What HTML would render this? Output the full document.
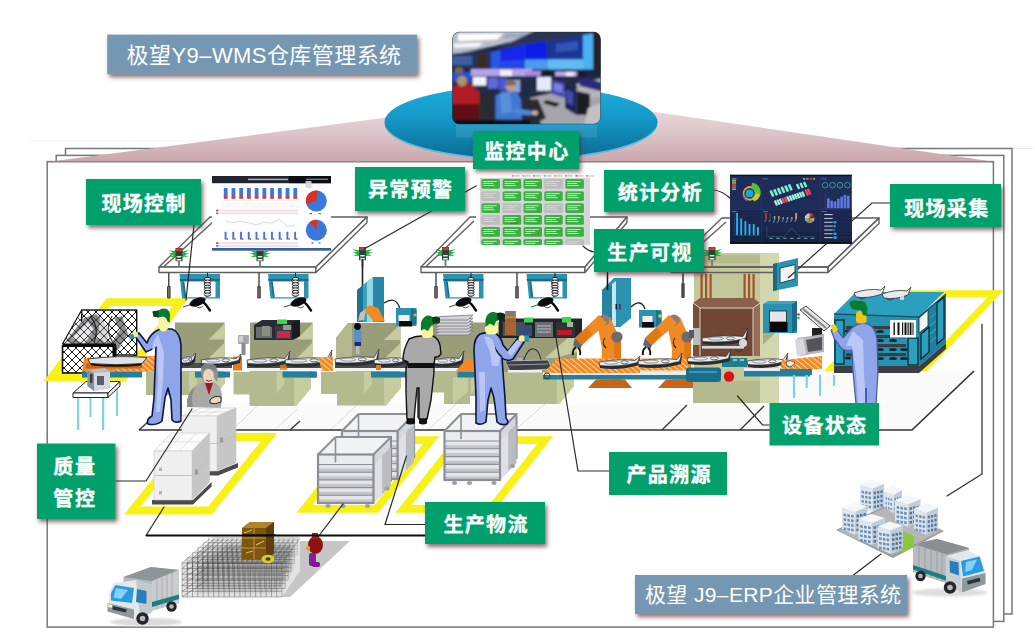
<!DOCTYPE html>
<html lang="zh-CN"><head><meta charset="utf-8"><title>极望 MES 生产管理</title>
<style>
html,body{margin:0;padding:0;background:#fff;}
body{width:1035px;height:632px;overflow:hidden;font-family:"Liberation Sans","Noto Sans CJK SC",sans-serif;}
svg{display:block;}
.lb{font-family:"Liberation Sans","Noto Sans CJK SC",sans-serif;font-weight:700;fill:#fff;font-size:20px;text-anchor:middle;stroke:#fff;stroke-width:0.35px;}
.sys{font-family:"Liberation Sans","Noto Sans CJK SC",sans-serif;font-weight:400;fill:#fff;}
</style></head><body>
<svg width="1035" height="632" viewBox="0 0 1035 632">
<defs>
  <linearGradient id="beamG" x1="0" y1="0" x2="0" y2="1">
    <stop offset="0" stop-color="#ead9dc"/>
    <stop offset="0.55" stop-color="#d9bfc4"/>
    <stop offset="1" stop-color="#c9a6ac"/>
  </linearGradient>
  <linearGradient id="discG" x1="0" y1="0" x2="0" y2="1">
    <stop offset="0" stop-color="#1aaee0"/>
    <stop offset="0.45" stop-color="#1499c6"/>
    <stop offset="1" stop-color="#0a6b93"/>
  </linearGradient>
  <filter id="sh" x="-10%" y="-20%" width="125%" height="150%">
    <feGaussianBlur in="SourceAlpha" stdDeviation="2"/>
    <feOffset dx="1.6" dy="2.6" result="o"/>
    <feFlood flood-color="#5a3038" flood-opacity="0.7"/>
    <feComposite in2="o" operator="in"/>
    <feMerge><feMergeNode/><feMergeNode in="SourceGraphic"/></feMerge>
  </filter>
  <filter id="b1"><feGaussianBlur stdDeviation="0.6"/></filter>
  <filter id="b2"><feGaussianBlur stdDeviation="1.0"/></filter>
  <filter id="b3"><feGaussianBlur stdDeviation="2.2"/></filter>
  <clipPath id="photoClip"><rect x="452.5" y="32" width="148" height="92" rx="7" ry="7"/></clipPath>
  <pattern id="hatch" width="8" height="8" patternUnits="userSpaceOnUse">
    <rect width="8" height="8" fill="#fff"/>
    <path d="M0 0L8 8M8 0L0 8" stroke="#111" stroke-width="0.95"/>
  </pattern>
  <pattern id="hatchT" width="8" height="8" patternUnits="userSpaceOnUse">
    <path d="M0 0L8 8M8 0L0 8" stroke="#111" stroke-width="0.9"/>
  </pattern>
  <pattern id="dots" width="4" height="4" patternUnits="userSpaceOnUse">
    <rect width="4" height="4" fill="#fcfcfc"/>
    <rect x="1" y="1" width="1" height="1" fill="#f1f1f1"/>
    <rect x="3" y="3" width="1" height="1" fill="#f1f1f1"/>
  </pattern>
  <pattern id="mesh" width="5" height="5" patternUnits="userSpaceOnUse">
    <path d="M0 0H5M0 0V5" stroke="#555" stroke-width="0.8" fill="none"/>
  </pattern>
  <pattern id="ostripe" width="4" height="4" patternUnits="userSpaceOnUse" patternTransform="rotate(-50)">
    <rect width="4" height="4" fill="#f08a24"/>
    <rect width="0.9" height="4" fill="#ffd9a8"/>
  </pattern>
</defs>
<!-- stacked page frames -->
<line x1="30" y1="141" x2="215" y2="141" stroke="#f3f3f3" stroke-width="1"/>
<line x1="1012" y1="148.3" x2="1033" y2="148.3" stroke="#e4e0e0" stroke-width="1"/>
<rect x="65.5" y="148.5" width="946.5" height="465.5" fill="#fff" stroke="#777" stroke-width="1.5"/>
<rect x="56.2" y="155.4" width="947.6" height="466" fill="#fff" stroke="#777" stroke-width="1.5"/>
<rect x="47.2" y="161.6" width="946.2" height="465.5" fill="#fff" stroke="#777" stroke-width="1.5"/>
<!-- beam -->
<polygon points="47,162 400,115.8 640,109.7 992,161.5" fill="url(#beamG)"/>
<line id="beam-edge" x1="47.2" y1="161.7" x2="993.4" y2="161.7" stroke="#8c7a80" stroke-width="1.2" opacity="0.75"/>
<!-- disc -->
<ellipse cx="521" cy="123.6" rx="136.5" ry="36.5" fill="#58bcd8"/>
<ellipse cx="521" cy="122" rx="136.5" ry="36.5" fill="url(#discG)"/>
<!-- control room photo -->
<g clip-path="url(#photoClip)">
<rect x="452" y="31" width="150" height="94" fill="#1a2240"/>
<g filter="url(#b2)">
<polygon points="448.0,28.0 545.0,28.0 530.0,37.0 495.0,46.0 448.0,56.0" fill="#b9bec8" />
<polygon points="540.0,28.0 604.0,28.0 604.0,36.0 583.0,37.0 525.0,45.0 495.0,50.0" fill="#2c3652" />
<polygon points="458.0,34.0 503.0,33.5 497.0,39.5 458.0,41.0" fill="#ffffff" />
<polygon points="454.0,43.5 484.0,42.5 478.0,47.0 454.0,48.0" fill="#f3f5f9" />
<polygon points="505.0,34.0 528.0,33.0 522.0,37.0 503.0,38.0" fill="#9aa4c0" />
<polygon points="448.0,54.0 492.0,50.0 492.0,70.0 448.0,72.0" fill="#21325c" />
<rect x="452.0" y="56.0" width="20.0" height="9.0" fill="#3f5f9e" />
<rect x="477.0" y="52.5" width="9.5" height="15.5" fill="#3a2a24" />
<polygon points="491.0,52.0 525.0,44.5 583.0,36.5 583.0,71.0 491.0,70.0" fill="#1a3ae6" />
<polygon points="491.0,52.0 500.0,50.0 500.0,69.5 491.0,69.5" fill="#2c56e2" />
<polygon points="501.0,49.5 524.0,44.6 524.0,60.0 501.0,61.0" fill="#1226ea" />
<polygon points="525.0,44.4 546.0,41.5 546.0,58.8 525.0,59.5" fill="#0f1fe8" />
<polygon points="546.0,41.5 583.0,36.5 583.0,59.6 546.0,58.8" fill="#1b3494" />
<polygon points="556.0,44.0 578.0,41.0 578.0,50.0 556.0,52.0" fill="#2d56b4" />
<polygon points="583.0,35.0 593.0,33.5 593.0,72.5 583.0,72.0" fill="#4ab2f2" />
<polygon points="525.0,59.5 583.0,59.6 583.0,71.5 525.0,70.5" fill="#4c9cee" />
<polygon points="548.0,59.5 583.0,59.6 583.0,71.5 548.0,71.0" fill="#62bbf3" />
<polygon points="501.0,61.0 524.0,60.0 525.0,70.5 501.0,69.8" fill="#2448e4" />
<polygon points="593.0,30.0 604.0,30.0 604.0,75.0 593.0,74.0" fill="#2b2228" />
<rect x="448.0" y="69.5" width="156.0" height="3.5" fill="#1b2140" />
<rect x="471.0" y="69.0" width="61.0" height="7.0" fill="#b3a4e2" />
<rect x="500.0" y="70.0" width="12.0" height="6.0" fill="#f2f0ff" />
<rect x="525.0" y="71.0" width="16.0" height="7.0" fill="#a78be0" />
<rect x="555.0" y="71.5" width="22.0" height="7.5" fill="#c0a8ea" />
<rect x="566.0" y="72.0" width="8.0" height="6.5" fill="#f0e8fb" />
<rect x="448.0" y="76.0" width="156.0" height="50.0" fill="#232a44" />
<rect x="452.0" y="72.0" width="19.0" height="10.0" fill="#2b50d4" />
<ellipse cx="459.0" cy="70.5" rx="4.0" ry="3.2" fill="#7a6a40" />
<rect x="472.8" y="77.0" width="13.6" height="8.6" fill="#f2f5ff" />
<rect x="488.0" y="77.5" width="10.0" height="11.0" fill="#5c6ae2" />
<rect x="499.0" y="78.0" width="8.5" height="12.0" fill="#4a5ad6" />
<rect x="508.0" y="80.0" width="12.0" height="12.0" fill="#8ea4dc" />
<polygon points="530.0,98.0 552.0,93.0 604.0,84.0 604.0,126.0 542.0,126.0" fill="#a4a5aa" />
<polygon points="576.0,84.0 604.0,78.0 604.0,96.0 582.0,100.0" fill="#b4b4ba" />
<polygon points="578.0,76.0 604.0,83.0 604.0,92.0 580.0,86.0" fill="#2c2c7c" />
<ellipse cx="582.0" cy="74.8" rx="4.2" ry="3.6" fill="#1c1c2a" />
<ellipse cx="547.8" cy="73.0" rx="4.0" ry="3.4" fill="#1c1a28" />
<polygon points="546.0,100.0 560.0,103.5 556.0,107.0 543.0,103.0" fill="#1e1e24" />
<polygon points="576.6,91.0 590.0,94.0 590.0,115.0 576.6,115.0" fill="#1b1b21" />
<polygon points="525.0,100.0 538.0,99.0 546.0,118.0 534.0,124.0 525.0,122.0" fill="#2b2b32" />
<polygon points="588.0,108.0 604.0,102.0 604.0,126.0 584.0,126.0" fill="#c2c2c6" />
<rect x="537.0" y="77.0" width="14.0" height="13.7" fill="#e3eafa" />
<polygon points="552.0,80.0 564.5,83.0 564.5,98.0 552.0,94.0" fill="#4a48b4" />
<polygon points="554.0,83.0 562.5,85.0 562.5,93.0 554.0,90.5" fill="#7a80e0" />
<polygon points="565.0,84.6 576.6,90.0 576.6,115.0 565.0,108.0" fill="#1a2152" />
<polygon points="566.5,89.0 573.0,92.0 573.0,106.0 566.5,102.5" fill="#3c4cb2" />
<polygon points="452.0,86.0 470.0,83.0 479.0,92.0 481.0,116.0 452.0,118.0" fill="#b01a26" />
<polygon points="452.0,104.0 481.0,104.0 481.0,122.0 452.0,122.0" fill="#5e0f18" />
<ellipse cx="462.0" cy="81.0" rx="5.0" ry="5.2" fill="#a8966c" />
<polygon points="479.0,96.0 490.0,93.5 494.0,100.0 494.0,121.0 479.0,121.0" fill="#2a2a31" />
<polygon points="495.5,96.0 503.0,91.0 517.0,91.5 521.0,100.0 522.0,119.6 495.5,119.6" fill="#3f78d0" />
<polygon points="500.0,94.0 510.0,92.0 512.0,112.0 501.0,114.0" fill="#5a8fdc" />
<ellipse cx="510.7" cy="85.5" rx="5.4" ry="6.0" fill="#c29c8a" />
<polygon points="505.5,83.0 510.0,79.5 516.0,81.5 516.0,85.0 506.0,86.0" fill="#7c6a5c" />
<polygon points="514.0,108.0 533.0,111.0 532.0,115.5 513.0,114.0" fill="#4f86d8" />
<ellipse cx="535.0" cy="113.0" rx="3.0" ry="2.4" fill="#d0a894" />
<rect x="448.0" y="120.0" width="82.0" height="6.0" fill="#0e0e1a" />
</g>
</g>
<rect x="452.5" y="32" width="148" height="92" rx="7" ry="7" fill="none" stroke="#12304c" stroke-opacity="0.45" stroke-width="0.8"/>
<rect x="456" y="124.5" width="141" height="13" fill="#ffffff" opacity="0.10"/>
<!-- floor band + yellow zones -->
<g>
  <polygon points="139,430 166,404 780,404 780,371 974,371 912,430" fill="url(#dots)"/>
  <!-- floor seams -->
  <g stroke="#dcdcdc" stroke-width="1" fill="none">
    <path d="M232,430 L258,405 M330,430 L358,404 M428,430 L456,404 M515,430 L545,404 M276,428 L297,410"/>
  </g>
  <g stroke="#333" stroke-width="1.3" fill="none">
    <path d="M139,430 H912 L974,371" stroke-width="1.7"/>
    <path d="M139,430 L150,420"/>
    <path d="M290,430 L300,421 M376,430 L392,416"/>
    <path d="M662,430 L687,405 M740,430 L764,406"/>
  </g>
</g>
<g fill="none" stroke="#f8f117" stroke-width="7.8" stroke-linejoin="miter">
  <polygon points="108.5,302.2 180.5,302.2 123.5,377.3 51.5,377.3"/>
  <polygon points="191.5,437 269.3,437 210,510.5 132.2,510.5"/>
  <polygon points="359,440.2 431,440.2 376.5,508.8 304.6,508.8"/>
  <polygon points="458,440.2 545,440.2 491,508.8 403.6,508.8"/>
  <polygon points="902,293.8 995.5,293.8 925.5,367.4 832,367.4" stroke-width="7"/>
</g>
<!-- canopies, beacons, monitors -->
<g stroke="#5e5e5e" stroke-width="1.35" stroke-linejoin="round" fill="#fff" fill-opacity="1">
<polygon points="159.0,267.0 316.0,267.0 367.0,217.0 210.0,217.0"/>
<polygon points="159.0,267.0 316.0,267.0 316.0,272.5 159.0,272.5"/>
<polygon points="316.0,267.0 367.0,217.0 367.0,222.5 316.0,272.5"/>
<path d="M164.0 266.5 L214.0 221.0" fill="none"/>
</g>
<g stroke="#5e5e5e" stroke-width="1.35" stroke-linejoin="round" fill="#fff" fill-opacity="1">
<polygon points="421.0,267.0 585.0,267.0 627.0,217.0 470.0,217.0"/>
<polygon points="421.0,267.0 585.0,267.0 585.0,272.5 421.0,272.5"/>
<polygon points="585.0,267.0 627.0,217.0 627.0,222.5 585.0,272.5"/>
<path d="M426.0 266.5 L474.0 221.0" fill="none"/>
</g>
<g>
<line x1="179.0" y1="260.0" x2="179.0" y2="267.0" stroke="#777" stroke-width="1.8"/>
<polygon points="177.0,252.1 177.0,254.8 168.5,250.0" fill="#12a535"/>
<polygon points="177.0,252.9 177.0,255.7 168.5,253.5" fill="#12a535"/>
<polygon points="177.0,253.8 177.0,256.5 169.5,257.0" fill="#12a535"/>
<polygon points="176.0,250.5 176.0,257.5 171.5,254.0" fill="#1fb843"/>
<polygon points="181.0,252.1 181.0,254.8 189.5,250.0" fill="#12a535"/>
<polygon points="181.0,252.9 181.0,255.7 189.5,253.5" fill="#12a535"/>
<polygon points="181.0,253.8 181.0,256.5 188.5,257.0" fill="#12a535"/>
<polygon points="182.0,250.5 182.0,257.5 186.5,254.0" fill="#1fb843"/>
<rect x="175.5" y="248.0" width="7" height="13.2" fill="#2c4a34"/>
<rect x="176.0" y="248.3" width="6" height="3" rx="0.8" fill="#d8322c"/>
<rect x="176.5" y="251.8" width="5" height="2.6" fill="#34384a"/>
<rect x="176.7" y="256.0" width="4.6" height="1.5" fill="#dfe8df"/><rect x="176.7" y="259.0" width="4.6" height="1.6" fill="#e8eee8"/>
</g>
<g>
<line x1="260.0" y1="260.0" x2="260.0" y2="267.0" stroke="#777" stroke-width="1.8"/>
<polygon points="258.0,252.1 258.0,254.8 249.5,250.0" fill="#12a535"/>
<polygon points="258.0,252.9 258.0,255.7 249.5,253.5" fill="#12a535"/>
<polygon points="258.0,253.8 258.0,256.5 250.5,257.0" fill="#12a535"/>
<polygon points="257.0,250.5 257.0,257.5 252.5,254.0" fill="#1fb843"/>
<polygon points="262.0,252.1 262.0,254.8 270.5,250.0" fill="#12a535"/>
<polygon points="262.0,252.9 262.0,255.7 270.5,253.5" fill="#12a535"/>
<polygon points="262.0,253.8 262.0,256.5 269.5,257.0" fill="#12a535"/>
<polygon points="263.0,250.5 263.0,257.5 267.5,254.0" fill="#1fb843"/>
<rect x="256.5" y="248.0" width="7" height="13.2" fill="#2c4a34"/>
<rect x="257.0" y="248.3" width="6" height="3" rx="0.8" fill="#d8322c"/>
<rect x="257.5" y="251.8" width="5" height="2.6" fill="#34384a"/>
<rect x="257.7" y="256.0" width="4.6" height="1.5" fill="#dfe8df"/><rect x="257.7" y="259.0" width="4.6" height="1.6" fill="#e8eee8"/>
</g>
<g>
<line x1="362.5" y1="259.0" x2="362.5" y2="267.0" stroke="#777" stroke-width="1.8"/>
<polygon points="360.5,251.1 360.5,253.8 352.0,249.0" fill="#12a535"/>
<polygon points="360.5,251.9 360.5,254.7 352.0,252.5" fill="#12a535"/>
<polygon points="360.5,252.8 360.5,255.5 353.0,256.0" fill="#12a535"/>
<polygon points="359.5,249.5 359.5,256.5 355.0,253.0" fill="#1fb843"/>
<polygon points="364.5,251.1 364.5,253.8 373.0,249.0" fill="#12a535"/>
<polygon points="364.5,251.9 364.5,254.7 373.0,252.5" fill="#12a535"/>
<polygon points="364.5,252.8 364.5,255.5 372.0,256.0" fill="#12a535"/>
<polygon points="365.5,249.5 365.5,256.5 370.0,253.0" fill="#1fb843"/>
<rect x="359.0" y="247.0" width="7" height="13.2" fill="#2c4a34"/>
<rect x="359.5" y="247.3" width="6" height="3" rx="0.8" fill="#d8322c"/>
<rect x="360.0" y="250.8" width="5" height="2.6" fill="#34384a"/>
<rect x="360.2" y="255.0" width="4.6" height="1.5" fill="#dfe8df"/><rect x="360.2" y="258.0" width="4.6" height="1.6" fill="#e8eee8"/>
</g>
<g>
<line x1="445.5" y1="259.0" x2="445.5" y2="267.0" stroke="#777" stroke-width="1.8"/>
<polygon points="443.5,251.1 443.5,253.8 435.0,249.0" fill="#12a535"/>
<polygon points="443.5,251.9 443.5,254.7 435.0,252.5" fill="#12a535"/>
<polygon points="443.5,252.8 443.5,255.5 436.0,256.0" fill="#12a535"/>
<polygon points="442.5,249.5 442.5,256.5 438.0,253.0" fill="#1fb843"/>
<polygon points="447.5,251.1 447.5,253.8 456.0,249.0" fill="#12a535"/>
<polygon points="447.5,251.9 447.5,254.7 456.0,252.5" fill="#12a535"/>
<polygon points="447.5,252.8 447.5,255.5 455.0,256.0" fill="#12a535"/>
<polygon points="448.5,249.5 448.5,256.5 453.0,253.0" fill="#1fb843"/>
<rect x="442.0" y="247.0" width="7" height="13.2" fill="#2c4a34"/>
<rect x="442.5" y="247.3" width="6" height="3" rx="0.8" fill="#d8322c"/>
<rect x="443.0" y="250.8" width="5" height="2.6" fill="#34384a"/>
<rect x="443.2" y="255.0" width="4.6" height="1.5" fill="#dfe8df"/><rect x="443.2" y="258.0" width="4.6" height="1.6" fill="#e8eee8"/>
</g>
<line x1="362.5" y1="259" x2="362.5" y2="292" stroke="#222" stroke-width="1.6"/>
<line x1="168.8" y1="273.0" x2="168.8" y2="286.0" stroke="#222" stroke-width="1.2"/><rect x="167.0" y="286.0" width="3.6" height="12.5" rx="1" fill="#4a3c36"/><rect x="168.2" y="287.0" width="1.2" height="10.5" fill="#8a7a72"/>
<line x1="259.0" y1="273.0" x2="259.0" y2="286.0" stroke="#222" stroke-width="1.2"/><rect x="257.2" y="286.0" width="3.6" height="12.5" rx="1" fill="#4a3c36"/><rect x="258.4" y="287.0" width="1.2" height="10.5" fill="#8a7a72"/>
<line x1="436.0" y1="273.0" x2="436.0" y2="286.0" stroke="#222" stroke-width="1.2"/><rect x="434.2" y="286.0" width="3.6" height="12.5" rx="1" fill="#4a3c36"/><rect x="435.4" y="287.0" width="1.2" height="10.5" fill="#8a7a72"/>
<line x1="517.0" y1="273.0" x2="517.0" y2="286.0" stroke="#222" stroke-width="1.2"/><rect x="515.2" y="286.0" width="3.6" height="12.5" rx="1" fill="#4a3c36"/><rect x="516.4" y="287.0" width="1.2" height="10.5" fill="#8a7a72"/>
<g>
<polygon points="179.5,274.0 220.0,274.0 220.0,298.5 182.0,298.5" fill="#2b93b0"/>
<polygon points="179.5,279.0 220.0,279.0 220.0,281.0 180.0,281.0" fill="#1c6a85"/>
<polygon points="183.5,281.5 215.5,281.5 215.5,297.3 185.5,297.3" fill="#fff"/>
<path d="M183.5 281.5 L185.5 297.3" stroke="#1c6a85" stroke-width="1.6" fill="none"/>
<path d="M204.5 279.0 L207.0 297.5" stroke="#2b93b0" stroke-width="2" fill="none"/>
</g>
<g>
<polygon points="268.0,274.0 308.5,274.0 308.5,298.5 270.5,298.5" fill="#2b93b0"/>
<polygon points="268.0,279.0 308.5,279.0 308.5,281.0 268.5,281.0" fill="#1c6a85"/>
<polygon points="272.0,281.5 304.0,281.5 304.0,297.3 274.0,297.3" fill="#fff"/>
<path d="M272.0 281.5 L274.0 297.3" stroke="#1c6a85" stroke-width="1.6" fill="none"/>
<path d="M293.0 279.0 L295.5 297.5" stroke="#2b93b0" stroke-width="2" fill="none"/>
</g>
<g>
<polygon points="443.0,274.0 483.5,274.0 483.5,298.5 445.5,298.5" fill="#2b93b0"/>
<polygon points="443.0,279.0 483.5,279.0 483.5,281.0 443.5,281.0" fill="#1c6a85"/>
<polygon points="447.0,281.5 479.0,281.5 479.0,297.3 449.0,297.3" fill="#fff"/>
<path d="M447.0 281.5 L449.0 297.3" stroke="#1c6a85" stroke-width="1.6" fill="none"/>
<path d="M468.0 279.0 L470.5 297.5" stroke="#2b93b0" stroke-width="2" fill="none"/>
</g>
<g>
<polygon points="526.5,274.0 567.0,274.0 567.0,298.5 529.0,298.5" fill="#2b93b0"/>
<polygon points="526.5,279.0 567.0,279.0 567.0,281.0 527.0,281.0" fill="#1c6a85"/>
<polygon points="530.5,281.5 562.5,281.5 562.5,297.3 532.5,297.3" fill="#fff"/>
<path d="M530.5 281.5 L532.5 297.3" stroke="#1c6a85" stroke-width="1.6" fill="none"/>
<path d="M551.5 279.0 L554.0 297.5" stroke="#2b93b0" stroke-width="2" fill="none"/>
</g>
<g fill="none" stroke="#222" stroke-width="1">
<line x1="207.5" y1="273" x2="207.5" y2="279.0"/>
<ellipse cx="207.5" cy="279.0" rx="3.2" ry="1.6" fill="#eee"/>
<ellipse cx="207.5" cy="281.6" rx="3.2" ry="1.6" fill="#eee"/>
<ellipse cx="207.5" cy="284.2" rx="3.2" ry="1.6" fill="#eee"/>
<ellipse cx="207.5" cy="286.8" rx="3.2" ry="1.6" fill="#eee"/>
<ellipse cx="207.5" cy="289.4" rx="3.2" ry="1.6" fill="#eee"/>
<ellipse cx="207.5" cy="292.0" rx="3.2" ry="1.6" fill="#eee"/>
<ellipse cx="207.5" cy="294.6" rx="3.2" ry="1.6" fill="#eee"/>
</g>
<g fill="none" stroke="#222" stroke-width="1">
<line x1="295.5" y1="273" x2="295.5" y2="279.0"/>
<ellipse cx="295.5" cy="279.0" rx="3.2" ry="1.6" fill="#eee"/>
<ellipse cx="295.5" cy="281.6" rx="3.2" ry="1.6" fill="#eee"/>
<ellipse cx="295.5" cy="284.2" rx="3.2" ry="1.6" fill="#eee"/>
<ellipse cx="295.5" cy="286.8" rx="3.2" ry="1.6" fill="#eee"/>
<ellipse cx="295.5" cy="289.4" rx="3.2" ry="1.6" fill="#eee"/>
<ellipse cx="295.5" cy="292.0" rx="3.2" ry="1.6" fill="#eee"/>
<ellipse cx="295.5" cy="294.6" rx="3.2" ry="1.6" fill="#eee"/>
</g>
<g fill="none" stroke="#222" stroke-width="1">
<line x1="471.0" y1="273" x2="471.0" y2="279.0"/>
<ellipse cx="471.0" cy="279.0" rx="3.2" ry="1.6" fill="#eee"/>
<ellipse cx="471.0" cy="281.6" rx="3.2" ry="1.6" fill="#eee"/>
<ellipse cx="471.0" cy="284.2" rx="3.2" ry="1.6" fill="#eee"/>
<ellipse cx="471.0" cy="286.8" rx="3.2" ry="1.6" fill="#eee"/>
<ellipse cx="471.0" cy="289.4" rx="3.2" ry="1.6" fill="#eee"/>
<ellipse cx="471.0" cy="292.0" rx="3.2" ry="1.6" fill="#eee"/>
<ellipse cx="471.0" cy="294.6" rx="3.2" ry="1.6" fill="#eee"/>
</g>
<g fill="none" stroke="#222" stroke-width="1">
<line x1="555.0" y1="273" x2="555.0" y2="279.0"/>
<ellipse cx="555.0" cy="279.0" rx="3.2" ry="1.6" fill="#eee"/>
<ellipse cx="555.0" cy="281.6" rx="3.2" ry="1.6" fill="#eee"/>
<ellipse cx="555.0" cy="284.2" rx="3.2" ry="1.6" fill="#eee"/>
<ellipse cx="555.0" cy="286.8" rx="3.2" ry="1.6" fill="#eee"/>
<ellipse cx="555.0" cy="289.4" rx="3.2" ry="1.6" fill="#eee"/>
<ellipse cx="555.0" cy="292.0" rx="3.2" ry="1.6" fill="#eee"/>
<ellipse cx="555.0" cy="294.6" rx="3.2" ry="1.6" fill="#eee"/>
</g>
<g>
<path d="M191.0 304.5 L183.0 307.0" stroke="#555" stroke-width="1.1" fill="none"/>
<ellipse cx="197.5" cy="302.0" rx="8.4" ry="3.9" fill="#0c0c0c" transform="rotate(-20 197.5 302.0)"/>
<path d="M202.0 301.0 Q206.0 304.0 210.0 310.5" stroke="#0c0c0c" stroke-width="2.4" fill="none" stroke-linecap="round"/>
<path d="M195.5 305.5 q3.5 4.5 7.5 0.5" stroke="#444" stroke-width="0.9" fill="none"/>
</g>
<g>
<path d="M292.0 304.5 L284.0 307.0" stroke="#555" stroke-width="1.1" fill="none"/>
<ellipse cx="298.5" cy="302.0" rx="8.4" ry="3.9" fill="#0c0c0c" transform="rotate(-20 298.5 302.0)"/>
<path d="M303.0 301.0 Q307.0 304.0 311.0 310.5" stroke="#0c0c0c" stroke-width="2.4" fill="none" stroke-linecap="round"/>
<path d="M296.5 305.5 q3.5 4.5 7.5 0.5" stroke="#444" stroke-width="0.9" fill="none"/>
</g>
<g>
<path d="M457.0 304.5 L449.0 307.0" stroke="#555" stroke-width="1.1" fill="none"/>
<ellipse cx="463.5" cy="302.0" rx="8.4" ry="3.9" fill="#0c0c0c" transform="rotate(-20 463.5 302.0)"/>
<path d="M468.0 301.0 Q472.0 304.0 476.0 310.5" stroke="#0c0c0c" stroke-width="2.4" fill="none" stroke-linecap="round"/>
<path d="M461.5 305.5 q3.5 4.5 7.5 0.5" stroke="#444" stroke-width="0.9" fill="none"/>
</g>
<g>
<path d="M539.0 304.5 L531.0 307.0" stroke="#555" stroke-width="1.1" fill="none"/>
<ellipse cx="545.5" cy="302.0" rx="8.4" ry="3.9" fill="#0c0c0c" transform="rotate(-20 545.5 302.0)"/>
<path d="M550.0 301.0 Q554.0 304.0 558.0 310.5" stroke="#0c0c0c" stroke-width="2.4" fill="none" stroke-linecap="round"/>
<path d="M543.5 305.5 q3.5 4.5 7.5 0.5" stroke="#444" stroke-width="0.9" fill="none"/>
</g>
<!-- machine row -->
<rect x="175.0" y="322.5" width="49.6" height="49.5" fill="#999e79"/>
<polygon points="224.6,323.5 224.6,339.5 208.6,339.5" fill="#c7cc9f"/>
<polygon points="224.6,342.5 224.6,358.5 208.6,358.5" fill="#c7cc9f"/>
<rect x="250.0" y="322.5" width="62.5" height="49.5" fill="#999e79"/>
<polygon points="312.5,323.5 312.5,339.5 296.5,339.5" fill="#c7cc9f"/>
<polygon points="312.5,342.5 312.5,358.5 296.5,358.5" fill="#c7cc9f"/>
<polygon points="336,338 348,323 400.5,323 400.5,372 336,372" fill="#999e79"/>
<polygon points="400.5,324 400.5,340 384,340" fill="#c7cc9f"/><polygon points="400.5,343 400.5,358 385,358" fill="#c7cc9f"/>
<polygon points="336,338 348,323 352,323 352,372 336,372" fill="#b3b88d"/>
<rect x="428.0" y="322.5" width="149.0" height="49.5" fill="#999e79"/>
<polygon points="577,330 577,352 556,358 545,358" fill="#c7cc9f"/>
<polygon points="146.0,372.0 225.0,372.0 225.0,383.0 215.0,395.0 146.0,395.0" fill="#b3ba8e"/>
<polygon points="189.0,372.0 197.0,372.0 197.0,384.0 189.0,394.0" fill="#c7cc9f"/>
<polygon points="208.0,378.0 225.0,378.0 225.0,383.0 215.0,395.0 208.0,395.0" fill="#c7cc9f"/>
<polygon points="233.5,372.0 311.0,372.0 311.0,388.0 296.0,406.0 249.5,406.0 249.5,394.5 233.5,394.5" fill="#b3ba8e"/>
<polygon points="276.5,372.0 284.5,372.0 284.5,384.0 276.5,394.0" fill="#c7cc9f"/>
<polygon points="294.0,378.0 311.0,378.0 311.0,388.0 296.0,406.0 294.0,406.0" fill="#c7cc9f"/>
<polygon points="321.0,372.0 401.0,372.0 401.0,387.5 386.0,405.5 337.0,405.5 337.0,394.0 321.0,394.0" fill="#b3ba8e"/>
<polygon points="364.0,372.0 372.0,372.0 372.0,384.0 364.0,394.0" fill="#c7cc9f"/>
<polygon points="384.0,378.0 401.0,378.0 401.0,387.5 386.0,405.5 384.0,405.5" fill="#c7cc9f"/>
<polygon points="428.0,372.0 574.0,372.0 574.0,386.0 559.0,404.0 444.0,404.0 444.0,392.5 428.0,392.5" fill="#b3ba8e"/>
<polygon points="471.0,372.0 479.0,372.0 479.0,384.0 471.0,394.0" fill="#c7cc9f"/>
<polygon points="557.0,378.0 574.0,378.0 574.0,386.0 559.0,404.0 557.0,404.0" fill="#c7cc9f"/>
<polygon points="453,377 468,377 468,392 453,404" fill="#c7cc9f"/>
<rect x="470" y="396" width="6" height="8.5" fill="#fff"/>
<g>
<polygon points="357,290 373,277 384,277 384,322 357,322" fill="#2b93b0"/>
<polygon points="357,290 363,285.5 363,322 357,322" fill="#1f7391"/>
<polygon points="367,282 373,277 373,322 367,322" fill="#8fd8e8"/>
<polygon points="363,285.5 367,282 367,322 363,322" fill="#39a4c0"/>
<polygon points="373,277 384,277 384,322 373,322" fill="#2787a4"/>
<path d="M360 313 L370 305 L378 308 L385 321 L374 322 L368 314 Z" fill="#f08a24"/>
<path d="M360 313 L366 309 L364 320 L358 321Z" fill="#c8c0b8"/>
<path d="M384 303 q12 -8 16 6" fill="none" stroke="#222" stroke-width="1.3"/>
<rect x="396" y="308" width="20.5" height="18" fill="#2b93b0"/><polygon points="411,308 416.5,310 416.5,324 411,326" fill="#1f7391"/>
<rect x="398.5" y="315" width="11" height="6" fill="#f4f0f4"/><rect x="399" y="321" width="13" height="5.5" fill="#0a0a0a"/>
<circle cx="415" cy="315" r="1.6" fill="#e8b020"/>
</g>
<g><circle cx="357.5" cy="326.5" r="3.4" fill="#0a0a0a"/><rect x="354" y="330" width="7.5" height="13" fill="#5a90c8"/><rect x="354.5" y="342" width="6.5" height="4" fill="#1a2a70"/><rect x="356" y="346" width="3.5" height="8" fill="#b8b8c0"/></g>
<polygon points="434.0,335.0 468.0,335.0 473.0,331.0 440.0,331.5" fill="#d2d2d8" stroke="#77777f" stroke-width="0.8"/>
<polygon points="434.0,332.0 468.0,332.0 473.0,327.8 440.0,328.5" fill="#d2d2d8" stroke="#77777f" stroke-width="0.8"/>
<polygon points="434.0,329.0 468.0,329.0 473.0,324.6 440.0,325.5" fill="#d2d2d8" stroke="#77777f" stroke-width="0.8"/>
<polygon points="434.0,326.0 468.0,326.0 473.0,321.4 440.0,322.5" fill="#d2d2d8" stroke="#77777f" stroke-width="0.8"/>
<polygon points="434.0,323.0 468.0,323.0 473.0,318.2 440.0,319.5" fill="#d2d2d8" stroke="#77777f" stroke-width="0.8"/>
<polygon points="434.0,320.0 468.0,320.0 473.0,315.0 440.0,316.5" fill="#d2d2d8" stroke="#77777f" stroke-width="0.8"/>
<g><polygon points="254,325 262,320 300,320 300,336 292,340 254,340" fill="#2a2c34"/>
<rect x="256" y="327" width="16" height="11" fill="#6a6e70"/><rect x="262" y="326" width="8" height="10" fill="#8a8f80"/>
<rect x="275" y="326" width="17" height="13" fill="#3a3a44"/><rect x="277" y="331" width="13" height="7" fill="#c82848"/>
<rect x="277" y="319.5" width="10" height="4.5" fill="#38d848"/><rect x="283" y="325" width="8" height="5" fill="#8aa08a"/>
<polygon points="292,322 300,320 300,336 292,340" fill="#1a1a22"/></g>
<g><rect x="238" y="335" width="11" height="9" rx="1" fill="#a8a8ac"/><rect x="241.5" y="343" width="4" height="12" fill="#8a8a90"/><rect x="239" y="336" width="4" height="6" fill="#d0d0d4"/></g>
<g><rect x="499" y="318.5" width="83" height="19.5" fill="#22242c"/>
<rect x="503" y="322" width="22" height="14" fill="#4a4e58"/><rect x="505" y="311" width="11" height="24" fill="#b86a2a" opacity="0.85"/><rect x="506" y="311" width="9" height="5" fill="#7a7a80"/>
<rect x="520" y="325" width="12" height="11" fill="#3a4a7a"/>
<rect x="535" y="322" width="18" height="15" fill="#6a6e74"/><path d="M537 326h14M537 329h14M537 332h14" stroke="#c8c8cc" stroke-width="0.9"/>
<rect x="556" y="322" width="19" height="15" fill="#30323a"/><rect x="557" y="330" width="15" height="5" fill="#c01828"/>
<rect x="524" y="317.5" width="9" height="5" fill="#38d848"/><rect x="562" y="317" width="9" height="5.5" fill="#38d848"/><rect x="567" y="322" width="6" height="5" fill="#a8b8a8"/>
</g>
<g><path d="M522 366 q5 -19 12 -17 q6 1 8 17" fill="none" stroke="#333" stroke-width="1.2"/><rect x="516" y="357" width="7" height="9" fill="#b0b4b8" stroke="#666" stroke-width="0.5"/></g>
<g>
<polygon points="602,290 614,278 631,278 631,318 620,327 602,327" fill="#2b93b0"/>
<polygon points="602,290 612,284 612,327 602,327" fill="#2582a0"/>
<polygon points="612,284 616,281 616,326 612,327" fill="#bfeaf2"/>
<polygon points="616,281 631,278 631,318 620,327 616,326" fill="#2b93b0"/>
<rect x="615.5" y="304" width="1.6" height="5.5" fill="#0a1a2a"/><rect x="619" y="304" width="1.8" height="5.5" fill="#6a2a5a"/>
<path d="M631 307 q10 -9 14 2" fill="none" stroke="#222" stroke-width="1.3"/>
<rect x="639" y="310" width="22.5" height="17.5" fill="#2b93b0"/><polygon points="656,310 661.5,312 661.5,326 656,327.5" fill="#1f7391"/>
<rect x="642.5" y="316" width="10" height="6" fill="#f4f0f4"/><rect x="642" y="322" width="12" height="5.5" fill="#0a0a0a"/><circle cx="660" cy="316" r="1.7" fill="#c8e020"/>
</g>
<line x1="607.5" y1="272" x2="607.5" y2="290" stroke="#111" stroke-width="1.6"/>
<line x1="683" y1="272" x2="683" y2="283" stroke="#111" stroke-width="1.3"/><rect x="681.3" y="283" width="3.4" height="15" rx="1" fill="#54463e"/>
<g>
<polygon points="588.0,388.0 632.0,388.0 625.0,379.5 596.0,379.5" fill="#c8641a"/>
<polygon points="601.0,380.0 621.0,380.0 621.0,342.0 610.0,317.0 597.0,324.0 602.0,348.0" fill="#f08a24"/>
<polygon points="613.0,380.0 621.0,380.0 621.0,342.0 615.0,330.0" fill="#e07818"/>
<circle cx="617.0" cy="337.0" r="5.6" fill="#6e6a70"/>
<path d="M605.0 338.0 q-4 5 1 10" stroke="#222" stroke-width="1.1" fill="none"/>
<circle cx="604.0" cy="320.0" r="5.6" fill="#8c7c78"/>
<polygon points="599.0,315.0 607.0,323.0 582.0,345.0 575.0,338.0" fill="#f08a24"/>
<polygon points="587.0,327.0 592.0,334.0 582.0,345.0 575.0,338.0" fill="#e07818"/>
<polygon points="575.0,338.0 582.0,345.0 580.0,350.0 573.0,345.0" fill="#66666e"/>
<path d="M576.0 347.0 q-4 3 -3 8 M578.0 348.0 q3 2 2 7" stroke="#111" stroke-width="1.9" fill="none"/>
</g>
<g>
<polygon points="658.0,388.0 702.0,388.0 695.0,379.5 666.0,379.5" fill="#c8641a"/>
<polygon points="671.0,380.0 691.0,380.0 691.0,342.0 680.0,317.0 667.0,324.0 672.0,348.0" fill="#f08a24"/>
<polygon points="683.0,380.0 691.0,380.0 691.0,342.0 685.0,330.0" fill="#e07818"/>
<circle cx="687.0" cy="337.0" r="5.6" fill="#6e6a70"/>
<path d="M675.0 338.0 q-4 5 1 10" stroke="#222" stroke-width="1.1" fill="none"/>
<circle cx="674.0" cy="320.0" r="5.6" fill="#8c7c78"/>
<polygon points="669.0,315.0 677.0,323.0 652.0,345.0 645.0,338.0" fill="#f08a24"/>
<polygon points="657.0,327.0 662.0,334.0 652.0,345.0 645.0,338.0" fill="#e07818"/>
<polygon points="645.0,338.0 652.0,345.0 650.0,350.0 643.0,345.0" fill="#66666e"/>
<path d="M646.0 347.0 q-4 3 -3 8 M648.0 348.0 q3 2 2 7" stroke="#111" stroke-width="1.9" fill="none"/>
</g>
<g>
<rect x="694" y="253" width="85" height="150" fill="#c3c89b"/>
<rect x="693" y="255" width="67" height="8" fill="#b4b98e"/>
<rect x="760" y="253" width="19" height="150" fill="#d3d7ad"/>
<rect x="693" y="381" width="67" height="22" fill="#b4b98e"/>
<rect x="700.5" y="274" width="2.2" height="25" fill="#a4512a"/>
<rect x="705.0" y="274" width="2.2" height="25" fill="#a4512a"/>
<rect x="709.5" y="274" width="2.2" height="25" fill="#a4512a"/>
<rect x="743.5" y="274" width="2.2" height="25" fill="#a4512a"/>
<rect x="748.0" y="274" width="2.2" height="25" fill="#a4512a"/>
<rect x="752.5" y="274" width="2.2" height="25" fill="#a4512a"/>
<polygon points="693,303 700,298 753,298 760,303 753,308 700,308" fill="#8a5f4c"/>
<polygon points="693,303 700,308 700,356 693,356" fill="#7a4f3a"/>
<polygon points="753,308 760,303 760,356 753,356" fill="#9a6a54"/>
<rect x="700" y="308" width="53" height="48" fill="#714733"/>
<path d="M693 303 L700 308 H753 L760 303 M700 308 V356 M753 308 V356" stroke="#d6d6c8" stroke-width="1" fill="none"/>
</g>
<g>
<rect x="763" y="304" width="34" height="29" fill="#2b93b0"/><polygon points="763,304 768,301 797,301 797,304" fill="#3aa6c2"/>
<polygon points="792,304 797,301 797,330 792,333" fill="#1c6a85"/>
<rect x="769.5" y="311" width="17" height="11" fill="#e6e6ea" stroke="#222" stroke-width="0.8"/><rect x="769.5" y="322" width="18" height="10" fill="#0a0a0a"/>
<polygon points="763,333 775,333 763,345" fill="#a9ae86"/>
</g>
<g>
<polygon points="800,310 806,306 830,326 824,331" fill="#e8e8ec" stroke="#333" stroke-width="0.9"/>
<path d="M803 309 L826 328" stroke="#888" stroke-width="2.2"/>
<rect x="812" y="328" width="10" height="8" fill="#222"/>
<polygon points="797,338 824,334 824,352 800,356" fill="#b4b4bc"/><polygon points="806,340 822,337 822,350 808,352" fill="#54545c"/>
<polygon points="795,340 803,338 806,354 797,356" fill="#d8d8de"/>
<circle cx="798.5" cy="314.5" r="1.3" fill="#e02020"/><circle cx="798.5" cy="318" r="1.3" fill="#20c020"/>
</g>
<!-- wire crate -->
<g>
  <polygon points="62.5,344 81.7,310 136.7,310 136.7,355 116,373 62.5,373" fill="#fff"/>
  <rect x="81.7" y="310" width="55" height="45" fill="url(#hatch)" stroke="#111" stroke-width="1.4"/>
  <g filter="url(#b1)">
    <path d="M66 341 L84 318 L96 314 L104 322 L96 338 L112 342 L120 330 L114 318 L122 316 L128 334 L118 350 L88 350 Z" fill="#8c8c90"/>
    <path d="M72 338 L88 322 L94 330 L84 344Z" fill="#e6e6ea"/>
    <path d="M100 318 L110 330 L106 344 L98 336Z" fill="#d8d8dc"/>
    <path d="M90 316 q10 12 4 26" stroke="#333" stroke-width="1.4" fill="none"/>
    <path d="M112 316 q-8 14 2 28" stroke="#444" stroke-width="1.2" fill="none"/>
  </g>
  <polygon points="62.5,344 81.7,310 136.7,310 136.7,344" fill="url(#hatchT)" opacity="0.85"/>
  <path d="M62.5,344 L81.7,310" stroke="#111" stroke-width="1.2"/>
  <rect x="62.5" y="346" width="53.3" height="27" fill="url(#hatch)" stroke="#111" stroke-width="1.6"/>
  <rect x="62.5" y="343.5" width="53.3" height="3.4" fill="#0a0a0a"/>
  <rect x="112.5" y="344" width="3.4" height="18" fill="#0a0a0a"/>
  <path d="M115.8,362 L136.7,355" stroke="#111" stroke-width="1"/>
</g>
<!-- conveyor line -->
<rect x="181" y="363" width="51" height="5.2" fill="#4a4c50"/>
<rect x="181" y="368" width="51" height="3.3" fill="#f2f2f2"/>
<rect x="247" y="363" width="70" height="5.2" fill="#4a4c50"/>
<rect x="247" y="368" width="70" height="3.3" fill="#f2f2f2"/>
<rect x="317" y="363" width="16" height="5.2" fill="#4a4c50"/>
<rect x="317" y="368" width="16" height="3.3" fill="#f2f2f2"/>
<rect x="335" y="363" width="75" height="5.2" fill="#4a4c50"/>
<rect x="335" y="368" width="75" height="3.3" fill="#f2f2f2"/>
<rect x="433" y="363" width="45" height="5.2" fill="#4a4c50"/>
<rect x="433" y="368" width="45" height="3.3" fill="#f2f2f2"/>
<polygon points="84,358 155,356 155,371.5 82,371.5" fill="#f08a24"/>
<polygon points="120,358 155,356 155,371.5 112,371.5" fill="url(#ostripe)"/>
<rect x="86" y="363.5" width="56" height="5" fill="#c8641a"/>
<path d="M88 359 Q118 355 147 357.5 L142 363.5 Q116 366 90 363.5Z" fill="#dfe2e6" stroke="#222" stroke-width="0.8"/>
<path d="M90 363.5 Q116 366 142 363.5 L141 365.5 Q116 368 92 365.5Z" fill="#111"/>
<rect x="82.0" y="371.6" width="60.0" height="5.9" fill="#237f9c"/>
<rect x="195.0" y="371.6" width="35.0" height="5.9" fill="#237f9c"/>
<rect x="282.5" y="371.6" width="34.2" height="5.9" fill="#237f9c"/>
<rect x="233" y="356.5" width="9" height="14" fill="#e07a20"/><rect x="280" y="358" width="7" height="12" fill="#e07a20" opacity="0.8"/>
<path d="M181.0 360.5 Q188.5 358.0 191.0 359.5 L196.0 354.5 L195.0 362.0 Q188.5 368.0 182.0 365.0 Z" fill="#2a2c30"/>
<path d="M181.0 359.0 Q188.5 355.5 191.0 357.5 L196.0 353.0 L193.5 359.5 Q188.5 364.5 181.5 362.5 Z" fill="#e9ebee" stroke="#2a2c30" stroke-width="0.7"/>
<ellipse cx="185.5" cy="359.6" rx="2.6" ry="1.5" fill="none" stroke="#7a8088" stroke-width="0.8"/>
<ellipse cx="190.3" cy="359.3" rx="1.3" ry="1.6" fill="none" stroke="#555a62" stroke-width="0.9"/>
<path d="M201.0 361.5 Q221.0 359.0 236.0 360.5 L241.0 355.5 L240.0 363.0 Q221.0 369.0 202.0 366.0 Z" fill="#2a2c30"/>
<path d="M201.0 360.0 Q221.0 356.5 236.0 358.5 L241.0 354.0 L238.5 360.5 Q221.0 365.5 201.5 363.5 Z" fill="#e9ebee" stroke="#2a2c30" stroke-width="0.7"/>
<ellipse cx="213.0" cy="360.6" rx="6.8" ry="1.5" fill="none" stroke="#7a8088" stroke-width="0.8"/>
<ellipse cx="225.8" cy="360.3" rx="3.6" ry="1.6" fill="none" stroke="#555a62" stroke-width="0.9"/>
<path d="M247.0 361.5 Q268.5 359.0 285.0 360.5 L290.0 352.5 L289.0 363.0 Q268.5 369.0 248.0 366.0 Z" fill="#2a2c30"/>
<path d="M247.0 360.0 Q268.5 356.5 285.0 358.5 L290.0 351.0 L287.5 360.5 Q268.5 365.5 247.5 363.5 Z" fill="#e9ebee" stroke="#2a2c30" stroke-width="0.7"/>
<ellipse cx="259.9" cy="360.6" rx="7.3" ry="1.5" fill="none" stroke="#7a8088" stroke-width="0.8"/>
<ellipse cx="273.7" cy="360.3" rx="3.9" ry="1.6" fill="none" stroke="#555a62" stroke-width="0.9"/>
<path d="M285.0 361.5 Q308.5 359.0 327.0 360.5 L332.0 351.5 L331.0 363.0 Q308.5 369.0 286.0 366.0 Z" fill="#2a2c30"/>
<path d="M285.0 360.0 Q308.5 356.5 327.0 358.5 L332.0 350.0 L329.5 360.5 Q308.5 365.5 285.5 363.5 Z" fill="#e9ebee" stroke="#2a2c30" stroke-width="0.7"/>
<ellipse cx="299.1" cy="360.6" rx="8.0" ry="1.5" fill="none" stroke="#7a8088" stroke-width="0.8"/>
<ellipse cx="314.1" cy="360.3" rx="4.2" ry="1.6" fill="none" stroke="#555a62" stroke-width="0.9"/>
<polygon points="318,358 333,356 333,371 322,371" fill="url(#ostripe)"/>
<rect x="310.0" y="371.6" width="6.7" height="5.9" fill="#237f9c"/>
<rect x="371.0" y="371.6" width="35.7" height="5.9" fill="#237f9c"/>
<rect x="457.5" y="371.6" width="19.5" height="5.9" fill="#237f9c"/>
<path d="M335.0 360.5 Q357.0 358.0 374.0 359.5 L379.0 350.5 L378.0 362.0 Q357.0 368.0 336.0 365.0 Z" fill="#2a2c30"/>
<path d="M335.0 359.0 Q357.0 355.5 374.0 357.5 L379.0 349.0 L376.5 359.5 Q357.0 364.5 335.5 362.5 Z" fill="#e9ebee" stroke="#2a2c30" stroke-width="0.7"/>
<ellipse cx="348.2" cy="359.6" rx="7.5" ry="1.5" fill="none" stroke="#7a8088" stroke-width="0.8"/>
<ellipse cx="362.3" cy="359.3" rx="4.0" ry="1.6" fill="none" stroke="#555a62" stroke-width="0.9"/>
<path d="M374.0 361.5 Q391.5 359.0 404.0 360.5 L409.0 356.5 L408.0 363.0 Q391.5 369.0 375.0 366.0 Z" fill="#2a2c30"/>
<path d="M374.0 360.0 Q391.5 356.5 404.0 358.5 L409.0 355.0 L406.5 360.5 Q391.5 365.5 374.5 363.5 Z" fill="#e9ebee" stroke="#2a2c30" stroke-width="0.7"/>
<ellipse cx="384.5" cy="360.6" rx="6.0" ry="1.5" fill="none" stroke="#7a8088" stroke-width="0.8"/>
<ellipse cx="395.7" cy="360.3" rx="3.1" ry="1.6" fill="none" stroke="#555a62" stroke-width="0.9"/>
<path d="M434.0 361.5 Q449.0 359.0 459.0 360.5 L464.0 352.5 L463.0 363.0 Q449.0 369.0 435.0 366.0 Z" fill="#2a2c30"/>
<path d="M434.0 360.0 Q449.0 356.5 459.0 358.5 L464.0 351.0 L461.5 360.5 Q449.0 365.5 434.5 363.5 Z" fill="#e9ebee" stroke="#2a2c30" stroke-width="0.7"/>
<ellipse cx="443.0" cy="360.6" rx="5.1" ry="1.5" fill="none" stroke="#7a8088" stroke-width="0.8"/>
<ellipse cx="452.6" cy="360.3" rx="2.7" ry="1.6" fill="none" stroke="#555a62" stroke-width="0.9"/>
<polygon points="456,371 468,357 478,371" fill="#f08a24"/>
<rect x="376" y="365" width="5" height="5" fill="#e07a20"/>
<rect x="470" y="360" width="7" height="12" fill="#f08a24"/>
<polygon points="505,361 548,360 552,369 510,371" fill="#3c4046" stroke="#c8ccd0" stroke-width="0.7"/>
<path d="M508 365 L548 364" stroke="#9a9ea4" stroke-width="1"/>
<rect x="508" y="370" width="34" height="2.5" fill="#eceef0"/>
<polygon points="557,358.5 640,358.5 640,373.5 543,373.5" fill="url(#ostripe)"/>
<rect x="543" y="373" width="145" height="2.2" fill="#e8ecee"/>
<rect x="543.0" y="375.0" width="145.0" height="4.5" fill="#237f9c"/>
<circle cx="547" cy="376" r="3" fill="none" stroke="#333" stroke-width="0.9"/>
<path d="M599.0 363.5 Q619.5 361.0 635.0 362.5 L640.0 357.5 L639.0 365.0 Q619.5 371.0 600.0 368.0 Z" fill="#2a2c30"/>
<path d="M599.0 362.0 Q619.5 358.5 635.0 360.5 L640.0 356.0 L637.5 362.5 Q619.5 367.5 599.5 365.5 Z" fill="#e9ebee" stroke="#2a2c30" stroke-width="0.7"/>
<ellipse cx="611.3" cy="362.6" rx="7.0" ry="1.5" fill="none" stroke="#7a8088" stroke-width="0.8"/>
<ellipse cx="624.4" cy="362.3" rx="3.7" ry="1.6" fill="none" stroke="#555a62" stroke-width="0.9"/>
<polygon points="640,358.5 690,358.5 690,372 640,373" fill="url(#ostripe)"/>
<path d="M638.0 362.5 Q660.0 360.0 677.0 361.5 L682.0 354.5 L681.0 364.0 Q660.0 370.0 639.0 367.0 Z" fill="#2a2c30"/>
<path d="M638.0 361.0 Q660.0 357.5 677.0 359.5 L682.0 353.0 L679.5 361.5 Q660.0 366.5 638.5 364.5 Z" fill="#e9ebee" stroke="#2a2c30" stroke-width="0.7"/>
<ellipse cx="651.2" cy="361.6" rx="7.5" ry="1.5" fill="none" stroke="#7a8088" stroke-width="0.8"/>
<ellipse cx="665.3" cy="361.3" rx="4.0" ry="1.6" fill="none" stroke="#555a62" stroke-width="0.9"/>
<rect x="640" y="370.5" width="46" height="2.5" fill="#e8ecee"/>
<rect x="686" y="367.5" width="35" height="14.5" rx="3" fill="#1b6e8a"/><rect x="689" y="371" width="28" height="2" fill="#4aa6c0" opacity="0.7"/>
<rect x="722" y="358" width="25" height="9" fill="#1f7f8f"/><path d="M726 360h4M733 360h4M740 360h4" stroke="#c8d8c0" stroke-width="1.6"/>
<path d="M687.0 359.5 Q709.0 357.0 726.0 358.5 L731.0 350.5 L730.0 361.0 Q709.0 367.0 688.0 364.0 Z" fill="#2a2c30"/>
<path d="M687.0 358.0 Q709.0 354.5 726.0 356.5 L731.0 349.0 L728.5 358.5 Q709.0 363.5 687.5 361.5 Z" fill="#e9ebee" stroke="#2a2c30" stroke-width="0.7"/>
<ellipse cx="700.2" cy="358.6" rx="7.5" ry="1.5" fill="none" stroke="#7a8088" stroke-width="0.8"/>
<ellipse cx="714.3" cy="358.3" rx="4.0" ry="1.6" fill="none" stroke="#555a62" stroke-width="0.9"/>
<circle cx="729" cy="376.5" r="5.2" fill="#d81414"/>
<path d="M747.0 362.5 Q767.5 360.0 783.0 361.5 L788.0 354.5 L787.0 364.0 Q767.5 370.0 748.0 367.0 Z" fill="#2a2c30"/>
<path d="M747.0 361.0 Q767.5 357.5 783.0 359.5 L788.0 353.0 L785.5 361.5 Q767.5 366.5 747.5 364.5 Z" fill="#e9ebee" stroke="#2a2c30" stroke-width="0.7"/>
<ellipse cx="759.3" cy="361.6" rx="7.0" ry="1.5" fill="none" stroke="#7a8088" stroke-width="0.8"/>
<ellipse cx="772.4" cy="361.3" rx="3.7" ry="1.6" fill="none" stroke="#555a62" stroke-width="0.9"/>
<rect x="744" y="368" width="50" height="3" fill="#e8ecee"/>
<rect x="744.0" y="371.0" width="66.0" height="5.5" fill="#237f9c"/>
<polygon points="782,360 822,356 822,369 780,371" fill="url(#ostripe)"/>
<path d="M786 362 q5 -3 9 1 q-3 5 -8 3z" fill="#e8e8ec" stroke="#333" stroke-width="0.7"/>
<rect x="780.0" y="369.0" width="32.0" height="6.0" fill="#237f9c"/>
<g><path d="M702.0 339.5 Q725.0 337.0 743.0 338.5 L748.0 329.5 L747.0 341.0 Q725.0 347.0 703.0 344.0 Z" fill="#2a2c30"/>
<path d="M702.0 338.0 Q725.0 334.5 743.0 336.5 L748.0 328.0 L745.5 338.5 Q725.0 343.5 702.5 341.5 Z" fill="#e9ebee" stroke="#2a2c30" stroke-width="0.7"/>
<ellipse cx="715.8" cy="338.6" rx="7.8" ry="1.5" fill="none" stroke="#7a8088" stroke-width="0.8"/>
<ellipse cx="730.5" cy="338.3" rx="4.1" ry="1.6" fill="none" stroke="#555a62" stroke-width="0.9"/>
</g>
<rect x="702" y="346" width="42" height="2.6" fill="#d8dadc"/><circle cx="743" cy="343" r="4" fill="#d8dadc"/><path d="M735 349 q4 6 8 0" stroke="#333" fill="none" stroke-width="0.9"/>
<rect x="693" y="328" width="7" height="17" fill="#b8bcc2"/><rect x="689" y="330" width="5" height="8" fill="#5a5a62"/>
<rect x="792.9" y="375" width="2.2" height="23.0" fill="#7fd2ea"/>
<rect x="805.6" y="375" width="2.2" height="13.0" fill="#7fd2ea"/>
<rect x="818.9" y="375" width="2.2" height="21.0" fill="#7fd2ea"/>
<rect x="832.9" y="375" width="2.2" height="11.0" fill="#7fd2ea"/>
<!-- carts -->
<g>
<polygon points="342.0,431.0 358.5,414.0 414.1,414.0 397.6,431.0" fill="#f1f2f4"/>
<rect x="342.0" y="431.0" width="55.6" height="10" fill="#e9ebee"/>
<polygon points="397.6,431.0 414.1,414.0 414.1,424.0 397.6,441.0" fill="#d4d7db"/>
<path d="M358.5 414.0 H414.1 V458.0" fill="none" stroke="#8b8f94" stroke-width="2"/>
<path d="M358.5 414.0 V439.0" fill="none" stroke="#8b8f94" stroke-width="1.6"/>
<polygon points="397.6,441.0 414.1,424.0 414.1,462.0 397.6,479.0" fill="#b9bcc0"/>
<polygon points="397.6,441.0 405.9,432.5 405.9,470.5 397.6,479.0" fill="#dfe1e4"/>
<rect x="342.0" y="441.0" width="55.6" height="38.0" fill="#e3e5e8"/>
<rect x="342.0" y="445.2" width="55.6" height="3.4" fill="#c2c5c9"/>
<line x1="342.0" y1="441.0" x2="397.6" y2="441.0" stroke="#8b8f94" stroke-width="1.1"/>
<rect x="342.0" y="452.8" width="55.6" height="3.4" fill="#c2c5c9"/>
<line x1="342.0" y1="448.6" x2="397.6" y2="448.6" stroke="#8b8f94" stroke-width="1.1"/>
<rect x="342.0" y="460.4" width="55.6" height="3.4" fill="#c2c5c9"/>
<line x1="342.0" y1="456.2" x2="397.6" y2="456.2" stroke="#8b8f94" stroke-width="1.1"/>
<rect x="342.0" y="468.0" width="55.6" height="3.4" fill="#c2c5c9"/>
<line x1="342.0" y1="463.8" x2="397.6" y2="463.8" stroke="#8b8f94" stroke-width="1.1"/>
<rect x="342.0" y="475.6" width="55.6" height="3.4" fill="#c2c5c9"/>
<line x1="342.0" y1="471.4" x2="397.6" y2="471.4" stroke="#8b8f94" stroke-width="1.1"/>
<path d="M342.0 431.0 L358.5 414.0 M397.6 431.0 L414.1 414.0" fill="none" stroke="#8b8f94" stroke-width="2"/>
<rect x="342.0" y="431.0" width="55.6" height="48.0" fill="none" stroke="#8b8f94" stroke-width="2.2"/>
</g>
<g>
<polygon points="318.0,454.5 335.5,437.0 391.0,437.0 373.5,454.5" fill="#f1f2f4"/>
<rect x="318.0" y="454.5" width="55.5" height="10" fill="#e9ebee"/>
<polygon points="373.5,454.5 391.0,437.0 391.0,447.0 373.5,464.5" fill="#d4d7db"/>
<path d="M335.5 437.0 H391.0 V481.5" fill="none" stroke="#8b8f94" stroke-width="2"/>
<path d="M335.5 437.0 V462.5" fill="none" stroke="#8b8f94" stroke-width="1.6"/>
<polygon points="373.5,464.5 391.0,447.0 391.0,485.5 373.5,503.0" fill="#b9bcc0"/>
<polygon points="373.5,464.5 382.2,455.8 382.2,494.2 373.5,503.0" fill="#dfe1e4"/>
<rect x="318.0" y="464.5" width="55.5" height="38.5" fill="#e3e5e8"/>
<rect x="318.0" y="468.7" width="55.5" height="3.5" fill="#c2c5c9"/>
<line x1="318.0" y1="464.5" x2="373.5" y2="464.5" stroke="#8b8f94" stroke-width="1.1"/>
<rect x="318.0" y="476.4" width="55.5" height="3.5" fill="#c2c5c9"/>
<line x1="318.0" y1="472.2" x2="373.5" y2="472.2" stroke="#8b8f94" stroke-width="1.1"/>
<rect x="318.0" y="484.1" width="55.5" height="3.5" fill="#c2c5c9"/>
<line x1="318.0" y1="479.9" x2="373.5" y2="479.9" stroke="#8b8f94" stroke-width="1.1"/>
<rect x="318.0" y="491.8" width="55.5" height="3.5" fill="#c2c5c9"/>
<line x1="318.0" y1="487.6" x2="373.5" y2="487.6" stroke="#8b8f94" stroke-width="1.1"/>
<rect x="318.0" y="499.5" width="55.5" height="3.5" fill="#c2c5c9"/>
<line x1="318.0" y1="495.3" x2="373.5" y2="495.3" stroke="#8b8f94" stroke-width="1.1"/>
<path d="M318.0 454.5 L335.5 437.0 M373.5 454.5 L391.0 437.0" fill="none" stroke="#8b8f94" stroke-width="2"/>
<rect x="318.0" y="454.5" width="55.5" height="48.5" fill="none" stroke="#8b8f94" stroke-width="2.2"/>
<ellipse cx="328.0" cy="506.0" rx="2.6" ry="2" fill="#9aa0a8"/>
<ellipse cx="343.0" cy="506.0" rx="2.6" ry="2" fill="#9aa0a8"/>
<ellipse cx="367.5" cy="506.0" rx="2.6" ry="2" fill="#9aa0a8"/>
<ellipse cx="387.0" cy="488.5" rx="2.6" ry="2" fill="#9aa0a8"/>
</g>
<g>
<polygon points="444.5,431.0 461.0,414.0 516.5,414.0 500.0,431.0" fill="#f1f2f4"/>
<rect x="444.5" y="431.0" width="55.5" height="10" fill="#e9ebee"/>
<polygon points="500.0,431.0 516.5,414.0 516.5,424.0 500.0,441.0" fill="#d4d7db"/>
<path d="M461.0 414.0 H516.5 V459.0" fill="none" stroke="#8b8f94" stroke-width="2"/>
<path d="M461.0 414.0 V439.0" fill="none" stroke="#8b8f94" stroke-width="1.6"/>
<polygon points="500.0,441.0 516.5,424.0 516.5,463.0 500.0,480.0" fill="#b9bcc0"/>
<polygon points="500.0,441.0 508.2,432.5 508.2,471.5 500.0,480.0" fill="#dfe1e4"/>
<rect x="444.5" y="441.0" width="55.5" height="39.0" fill="#e3e5e8"/>
<rect x="444.5" y="445.3" width="55.5" height="3.5" fill="#c2c5c9"/>
<line x1="444.5" y1="441.0" x2="500.0" y2="441.0" stroke="#8b8f94" stroke-width="1.1"/>
<rect x="444.5" y="453.1" width="55.5" height="3.5" fill="#c2c5c9"/>
<line x1="444.5" y1="448.8" x2="500.0" y2="448.8" stroke="#8b8f94" stroke-width="1.1"/>
<rect x="444.5" y="460.9" width="55.5" height="3.5" fill="#c2c5c9"/>
<line x1="444.5" y1="456.6" x2="500.0" y2="456.6" stroke="#8b8f94" stroke-width="1.1"/>
<rect x="444.5" y="468.7" width="55.5" height="3.5" fill="#c2c5c9"/>
<line x1="444.5" y1="464.4" x2="500.0" y2="464.4" stroke="#8b8f94" stroke-width="1.1"/>
<rect x="444.5" y="476.5" width="55.5" height="3.5" fill="#c2c5c9"/>
<line x1="444.5" y1="472.2" x2="500.0" y2="472.2" stroke="#8b8f94" stroke-width="1.1"/>
<path d="M444.5 431.0 L461.0 414.0 M500.0 431.0 L516.5 414.0" fill="none" stroke="#8b8f94" stroke-width="2"/>
<rect x="444.5" y="431.0" width="55.5" height="49.0" fill="none" stroke="#8b8f94" stroke-width="2.2"/>
<ellipse cx="454.5" cy="483.0" rx="2.6" ry="2" fill="#9aa0a8"/>
<ellipse cx="469.5" cy="483.0" rx="2.6" ry="2" fill="#9aa0a8"/>
<ellipse cx="494.0" cy="483.0" rx="2.6" ry="2" fill="#9aa0a8"/>
<ellipse cx="512.5" cy="466.0" rx="2.6" ry="2" fill="#9aa0a8"/>
</g>
<!-- small table + device -->
<g>
  <g fill="#7fd2ea">
    <rect x="77" y="397" width="2.2" height="33"/><rect x="102" y="397" width="2.2" height="33"/>
    <rect x="89.5" y="395" width="2" height="22"/><rect x="116" y="388" width="2" height="28"/>
  </g>
  <polygon points="73,393 108,393 120,381.5 86,381.5" fill="#fff" stroke="#222" stroke-width="1"/>
  <polygon points="73,393 108,393 108,397.5 73,397.5" fill="#fff" stroke="#222" stroke-width="1"/>
  <polygon points="108,393 120,381.5 120,386 108,397.5" fill="#e8e8e8" stroke="#222" stroke-width="1"/>
  <polygon points="87.5,370 105,368 110,372 110,388 94,391 87.5,386" fill="#b9bcc6"/>
  <polygon points="87.5,370 94,373 94,391 87.5,386" fill="#8a8e9a"/>
  <polygon points="94,373 110,372 110,388 94,391" fill="#d6d8e0"/>
  <rect x="97" y="376" width="7" height="9" fill="#5a5e6a"/>
  <rect x="90" y="374" width="2.5" height="9" fill="#3a3e4a"/>
</g>
<!-- worker 1 (blue, left) -->
<g stroke-linejoin="round">
  <path d="M160,329 Q150,333 147,343 L139,333 L135,336 L146,352 Q152,350 156,346 L155,372 L154,398 L152,416 Q146,419 148,424 Q156,426 162,421 L165,398 L168,388 L171,400 L172,420 Q176,424 181,421 L181,396 L181,345 Q180,332 172,329 Z" fill="#8fa5ea" stroke="#0c1440" stroke-width="1.6"/>
  <path d="M158,334 Q153,340 152,350 L157,346 L158,380 L156,412 L160,412 L163,380 L164,352 Z" fill="#b9c7f7"/>
  <ellipse cx="163.5" cy="324" rx="5.6" ry="7.6" fill="#f7f6a0"/>
  <path d="M152.5,311.5 L158.5,310.5 Q163,307 167.5,309.5 Q170.5,312 170,317 L169.8,322.5 L167.5,321.5 L166,318 L163,316.5 L158.5,317.5 L153.5,316.5 Z" fill="#0b7d2a"/>
  <path d="M152.5,311.5 L158.5,310.5 L158.5,317.5 L153.5,316.5Z" fill="#0a4a1c"/>
  <circle cx="135" cy="334.5" r="3" fill="#f3ef88"/>
  <circle cx="131.5" cy="336.5" r="2.6" fill="#2b93b0"/>
</g>
<!-- supervisor (grey coat) -->
<g>
  <path d="M187,407 Q186,392 196,386 L204,382 L214,382 Q222,386 222,397 L221,408 Z" fill="#a9aaa6"/>
  <path d="M196,386 Q190,395 193,407 L187,407 Q186,392 196,386Z" fill="#8c8d8a"/>
  <path d="M205,383 L209,395 L213,383 Z" fill="#9c1c24"/>
  <path d="M201,372 Q200,363 209,363.5 Q218,364 218,374 L217,382 L213,376 L204,376 L203,383 Z" fill="#8f9296"/>
  <ellipse cx="208.5" cy="376" rx="5.4" ry="7" fill="#f3d3bd"/>
  <path d="M202,370 Q208,366 216,371 L216,366 Q209,362 202,366Z" fill="#7c8086"/>
  <path d="M206,380 q3 2.5 6 0" stroke="#7a2a2a" stroke-width="1" fill="none"/>
  <path d="M210,400 Q214,395 221,397 L221,402 Q215,405 210,403Z" fill="#f3d3bd" stroke="#222" stroke-width="1"/>
  <rect x="196" y="392" width="3" height="1.6" fill="#d8b040"/>
</g>
<!-- worker 2 (grey, back) -->
<g stroke-linejoin="round">
  <path d="M409,339 Q415,336 421,336 L433,336 Q438,338 440,345 L441,354 Q438,358 435,357 L434,364 L434,372 L431,400 L427,419 L419,419 L419,388 L417,388 L414,419 L407,419 L406,392 L406,368 L408,362 L403,360 Q403,350 409,339 Z" fill="#a9a9a9" stroke="#111" stroke-width="1.4"/>
  <rect x="407.5" y="363" width="27" height="5" fill="#111"/>
  <path d="M418,388 L418,418" stroke="#111" stroke-width="1.3"/>
  <path d="M407,419 h8 v4.5 q-5 2 -9 0z M419,419 h8 v4.5 q-4 2 -8 0z" fill="#111"/>
  <rect x="421.5" y="324" width="11.5" height="14" rx="4" fill="#f7f6a0"/>
  <path d="M421,330.5 Q419.5,318 427,315.5 Q432,315 434,319 L434,324.5 L431,326 L428,331 L424,329 Z" fill="#0b7d2a"/>
  <path d="M432,317.5 Q437,315.5 440,318 L440,322.5 Q436,324.5 432.5,323.5Z" fill="#0a3d18"/>
</g>
<!-- worker 3 (blue, facing right) -->
<g stroke-linejoin="round">
  <path d="M480,334 Q488,331 496,333.5 Q501,337 503,345 L508,351 L518,338 L524,342 L513,359 Q507,362 502,358 L503,372 L505,398 L506,418 Q509,421 507,424 Q501,426 497,422 L494,398 L491,388 L488,400 L486,422 Q481,426 476,423 L476,398 L475,372 L474,350 Q474,338 480,334 Z" fill="#8fa5ea" stroke="#0c1440" stroke-width="1.6"/>
  <path d="M493,341 Q494,350 502,357" fill="none" stroke="#0c1440" stroke-width="1.4"/>
  <path d="M484,337 Q491,336 494,342 L496,352 L500,358 L499,366 L492,366 L490,352 Z" fill="#b9c7f7"/>
  <path d="M479,372 L485,372 L485,410 L480,412Z" fill="#b9c7f7"/>
  <path d="M507,352 L517,340 L521,343 L511,356Z" fill="#b9c7f7"/>
  <rect x="485" y="321" width="13" height="13.5" rx="4.5" fill="#f7f6a0"/>
  <path d="M485.5,327 Q484,314 492,312 Q497,311.5 499,314.5 L499,320 L496,321.5 L494,326 L490,323.5 Z" fill="#0b7d2a"/>
  <path d="M497,313 Q502,311.5 505,314 L505,318.5 Q501,320.5 497.5,319.5Z" fill="#0a2a14"/>
  <circle cx="522" cy="338.5" r="3.3" fill="#f3ef88"/>
  <rect x="524.5" y="335.5" width="4.5" height="6.5" fill="#2b93b0"/>
</g>
<!-- pallet rack right -->
<g>
  <polygon points="834,366 919,366 946,343 946,349 919,373 834,373" fill="#3a3e42"/>
  <polygon points="834,314 856,292 944,292 919,317" fill="#2d9fbe"/>
  <polygon points="834,314 919,317 919,366 834,366" fill="#2592b2"/>
  <polygon points="919,317 946,294 946,343 919,366" fill="#1f7f9e"/>
  <path d="M834,314 L919,317 L946,294" stroke="#14566e" stroke-width="1.6" fill="none"/>
  <g fill="#3a3e42">
    <rect x="846" y="326" width="60" height="3.2"/><rect x="846" y="335" width="60" height="3.2"/><rect x="846" y="344" width="60" height="3.2"/><rect x="846" y="353" width="60" height="3.2"/>
  </g>
  <g fill="#0e2a36">
    <ellipse cx="880" cy="331.5" rx="4" ry="1.6"/><ellipse cx="893" cy="340.5" rx="4" ry="1.6"/><ellipse cx="880" cy="340.5" rx="4" ry="1.6"/><ellipse cx="893" cy="349.5" rx="4" ry="1.6"/><ellipse cx="880" cy="349.5" rx="4" ry="1.6"/><ellipse cx="904" cy="349.5" rx="4" ry="1.6"/><ellipse cx="880" cy="358.5" rx="4" ry="1.6"/><ellipse cx="893" cy="358.5" rx="4" ry="1.6"/><ellipse cx="904" cy="358.5" rx="4" ry="1.6"/><ellipse cx="848" cy="331" rx="3" ry="1.5"/><ellipse cx="848" cy="358" rx="3" ry="1.5"/>
  </g>
  <rect x="835" y="320" width="9" height="44" fill="#2d9fbe" stroke="#0a1a22" stroke-width="1.2"/>
  <rect x="908" y="338" width="10" height="27" fill="#2d9fbe" stroke="#0a1a22" stroke-width="1.2"/>
  <polygon points="921,334 929,327 929,352 921,359" fill="#2d9fbe" stroke="#0a1a22" stroke-width="1.1"/>
  <polygon points="937,303 944,297 944,338 937,344" fill="#2d9fbe" stroke="#0a1a22" stroke-width="1.1"/>
  <g stroke="#2d9fbe" stroke-width="1.4"><path d="M930,318 L936,313 M930,326 L936,321 M930,334 L936,329 M930,342 L936,337"/></g>
  <rect x="890" y="320" width="26" height="17.5" fill="#fff"/>
  <g fill="#111"><rect x="893.5" y="322.5" width="1.4" height="12.5"/><rect x="897.5" y="322.5" width="2" height="12.5"/><rect x="902" y="322.5" width="1.2" height="12.5"/><rect x="904.5" y="322.5" width="2" height="12.5"/><rect x="907.5" y="322.5" width="1.2" height="12.5"/><rect x="909.7" y="322.5" width="1.8" height="12.5"/><rect x="912.5" y="322.5" width="1" height="12.5"/></g>
  <polygon points="919,318 928,310 928,326 919,333" fill="#f4f4f4" stroke="#222" stroke-width="0.8"/>
  <path d="M854,293 Q868,288 881,290 L885,286 L882,294 Q868,299 856,297Z" fill="#e8eaee" stroke="#333" stroke-width="0.8"/>
  <path d="M882,294 Q896,289 907,291 L911,287 L908,295 Q895,300 884,298Z" fill="#e8eaee" stroke="#333" stroke-width="0.8"/>
  <path d="M858,297 q4 4 8 0 M886,298 q4 4 8 0" stroke="#333" stroke-width="0.8" fill="none"/>
  <rect x="900" y="296" width="4" height="4" fill="#cfd3d8"/>
</g>
<!-- worker 4 (blue, right, facing left) -->
<g stroke-linejoin="round">
  <path d="M853,327 Q860,322 868,324 Q876,328 877,340 L878,372 L876,404 L856,404 L853,372 L852,350 Q846,352 841,348 L834,338 L831,330 L836,328 L843,338 Q848,332 853,327 Z" fill="#8fa5ea" stroke="#4a5a9a" stroke-width="1.2"/>
  <path d="M853,331 Q849,338 846,346 L852,346 L856,372 L858,404 L866,404 L864,372 L863,340 Z" fill="#b9c7f7"/>
  <path d="M866,388 L866,404" stroke="#1c2a6a" stroke-width="1.2"/>
  <rect x="856" y="311" width="10.5" height="12.5" rx="3.5" fill="#f2c21c"/>
  <path d="M849,303 Q852,299 858,301 Q866,299 867.5,308 L867,316 L863,315 L861,310 L856,310 L852,309 Z" fill="#0b7d2a"/>
  <path d="M830,325 l5 -1 l3 6 l-4 3z" fill="#f0d418"/>
</g>
<!-- lower scene: boxes, carts, mesh, trucks, buildings -->
<g stroke="#c9c9c9" stroke-width="0.6">
<polygon points="180.0,471.0 218.0,471.0 238.0,463.0 238.0,467.5 218.0,475.5 180.0,475.5" fill="#4a4a4a" stroke="none"/>
<polygon points="182.0,416.0 201.0,408.0 236.0,408.0 217.0,416.0" fill="#fbfbfb"/>
<polygon points="217.0,416.0 236.0,408.0 236.0,463.0 217.0,471.0" fill="#c6c6c6"/>
<rect x="182.0" y="416.0" width="35.0" height="55.0" fill="#f0f0f0"/>
<path d="M182.0 443.5 H217.0 L236.0 435.5" fill="none" stroke="#bdbdbd" stroke-width="0.9"/>
<path d="M193.6 416.0 L212.6 408.0" fill="none" stroke="#d5d5d5"/>
<path d="M205.1 416.0 L224.1 408.0" fill="none" stroke="#d5d5d5"/>
<path d="M191.5 412.0 H226.5" fill="none" stroke="#d5d5d5"/>
<rect x="187.0" y="435.5" width="3" height="3.5" fill="#b5b5b5" stroke="none"/><rect x="187.0" y="462.0" width="3" height="3.5" fill="#b5b5b5" stroke="none"/>
<rect x="220.0" y="437.5" width="3" height="5" fill="#9a9a9a" stroke="none"/>
</g>
<g stroke="#c9c9c9" stroke-width="0.6">
<polygon points="152.0,500.0 193.0,500.0 211.6,482.0 211.6,486.5 193.0,504.5 152.0,504.5" fill="#4a4a4a" stroke="none"/>
<polygon points="154.0,451.0 171.6,433.0 209.6,433.0 192.0,451.0" fill="#fbfbfb"/>
<polygon points="192.0,451.0 209.6,433.0 209.6,482.0 192.0,500.0" fill="#c6c6c6"/>
<rect x="154.0" y="451.0" width="38.0" height="49.0" fill="#f0f0f0"/>
<path d="M154.0 475.5 H192.0 L209.6 457.5" fill="none" stroke="#bdbdbd" stroke-width="0.9"/>
<path d="M166.5 451.0 L184.1 433.0" fill="none" stroke="#d5d5d5"/>
<path d="M179.1 451.0 L196.7 433.0" fill="none" stroke="#d5d5d5"/>
<path d="M162.8 442.0 H200.8" fill="none" stroke="#d5d5d5"/>
<rect x="159.0" y="467.5" width="3" height="3.5" fill="#b5b5b5" stroke="none"/><rect x="159.0" y="491.0" width="3" height="3.5" fill="#b5b5b5" stroke="none"/>
<rect x="195.0" y="469.5" width="3" height="5" fill="#9a9a9a" stroke="none"/>
</g>
<g>
<polygon points="240,597 300,541 350,541 290,597" fill="#c6c6c6"/>
<polygon points="182,597 182,563 215,537.5 300,537.5 300,571 282,597" fill="#e4e4e4"/>
<polygon points="196,592 200,566 226,545 292,545 292,570 276,592" fill="#bdbdbd" filter="url(#b3)"/>
<path d="M208.4 537.2V554.7M213.1 537.2V554.7M217.8 537.2V554.7M222.5 537.2V554.7M227.1 537.2V554.7M231.8 537.2V554.7M236.5 537.2V554.7M241.2 537.2V554.7M245.9 537.2V554.7M250.6 537.2V554.7M255.2 537.2V554.7M259.9 537.2V554.7M264.6 537.2V554.7M269.3 537.2V554.7M274.0 537.2V554.7M278.7 537.2V554.7M283.3 537.2V554.7M288.0 537.2V554.7M292.7 537.2V554.7M297.4 537.2V554.7M208.4 537.2H297.4M208.4 540.1H297.4M208.4 543.0H297.4M208.4 546.0H297.4M208.4 548.9H297.4M208.4 551.8H297.4M208.4 554.7H297.4" fill="none" stroke="#3a3a3a" stroke-width="0.5" opacity="0.41"/>
<path d="M203.1 542.4V563.2M207.9 542.4V563.2M212.7 542.4V563.2M217.5 542.4V563.2M222.3 542.4V563.2M227.1 542.4V563.2M231.9 542.4V563.2M236.7 542.4V563.2M241.5 542.4V563.2M246.3 542.4V563.2M251.1 542.4V563.2M255.9 542.4V563.2M260.7 542.4V563.2M265.5 542.4V563.2M270.3 542.4V563.2M275.1 542.4V563.2M279.9 542.4V563.2M284.7 542.4V563.2M289.5 542.4V563.2M294.3 542.4V563.2M203.1 542.4H294.3M203.1 545.8H294.3M203.1 549.3H294.3M203.1 552.8H294.3M203.1 556.2H294.3M203.1 559.7H294.3M203.1 563.2H294.3" fill="none" stroke="#3a3a3a" stroke-width="0.5" opacity="0.48"/>
<path d="M197.8 547.5V571.6M202.8 547.5V571.6M207.7 547.5V571.6M212.6 547.5V571.6M217.5 547.5V571.6M222.4 547.5V571.6M227.3 547.5V571.6M232.3 547.5V571.6M237.2 547.5V571.6M242.1 547.5V571.6M247.0 547.5V571.6M251.9 547.5V571.6M256.8 547.5V571.6M261.7 547.5V571.6M266.7 547.5V571.6M271.6 547.5V571.6M276.5 547.5V571.6M281.4 547.5V571.6M286.3 547.5V571.6M291.2 547.5V571.6M197.8 547.5H291.2M197.8 551.5H291.2M197.8 555.6H291.2M197.8 559.6H291.2M197.8 563.6H291.2M197.8 567.6H291.2M197.8 571.6H291.2" fill="none" stroke="#3a3a3a" stroke-width="0.5" opacity="0.55"/>
<path d="M192.6 552.7V580.1M197.6 552.7V580.1M202.6 552.7V580.1M207.7 552.7V580.1M212.7 552.7V580.1M217.7 552.7V580.1M222.7 552.7V580.1M227.8 552.7V580.1M232.8 552.7V580.1M237.8 552.7V580.1M242.9 552.7V580.1M247.9 552.7V580.1M252.9 552.7V580.1M258.0 552.7V580.1M263.0 552.7V580.1M268.0 552.7V580.1M273.1 552.7V580.1M278.1 552.7V580.1M283.1 552.7V580.1M288.2 552.7V580.1M192.6 552.7H288.2M192.6 557.2H288.2M192.6 561.8H288.2M192.6 566.4H288.2M192.6 570.9H288.2M192.6 575.5H288.2M192.6 580.1H288.2" fill="none" stroke="#3a3a3a" stroke-width="0.5" opacity="0.61"/>
<path d="M187.3 557.8V588.5M192.4 557.8V588.5M197.6 557.8V588.5M202.7 557.8V588.5M207.9 557.8V588.5M213.0 557.8V588.5M218.2 557.8V588.5M223.3 557.8V588.5M228.5 557.8V588.5M233.6 557.8V588.5M238.8 557.8V588.5M243.9 557.8V588.5M249.0 557.8V588.5M254.2 557.8V588.5M259.3 557.8V588.5M264.5 557.8V588.5M269.6 557.8V588.5M274.8 557.8V588.5M279.9 557.8V588.5M285.1 557.8V588.5M187.3 557.8H285.1M187.3 563.0H285.1M187.3 568.1H285.1M187.3 573.2H285.1M187.3 578.3H285.1M187.3 583.4H285.1M187.3 588.5H285.1" fill="none" stroke="#3a3a3a" stroke-width="0.5" opacity="0.68"/>
<path d="M182.0 563.0V597.0M187.3 563.0V597.0M192.5 563.0V597.0M197.8 563.0V597.0M203.1 563.0V597.0M208.3 563.0V597.0M213.6 563.0V597.0M218.8 563.0V597.0M224.1 563.0V597.0M229.4 563.0V597.0M234.6 563.0V597.0M239.9 563.0V597.0M245.2 563.0V597.0M250.4 563.0V597.0M255.7 563.0V597.0M260.9 563.0V597.0M266.2 563.0V597.0M271.5 563.0V597.0M276.7 563.0V597.0M282.0 563.0V597.0M182.0 563.0H282.0M182.0 568.7H282.0M182.0 574.3H282.0M182.0 580.0H282.0M182.0 585.7H282.0M182.0 591.3H282.0M182.0 597.0H282.0" fill="none" stroke="#3a3a3a" stroke-width="0.5" opacity="0.75"/>
<path d="M182.0 563L210.0 538.5M187.3 563L214.7 538.5M192.5 563L219.4 538.5M197.8 563L224.1 538.5M203.1 563L228.9 538.5M208.3 563L233.6 538.5M213.6 563L238.3 538.5M218.8 563L243.0 538.5M224.1 563L247.7 538.5M229.4 563L252.4 538.5M234.6 563L257.1 538.5M239.9 563L261.8 538.5M245.2 563L266.6 538.5M250.4 563L271.3 538.5M255.7 563L276.0 538.5M260.9 563L280.7 538.5M266.2 563L285.4 538.5M271.5 563L290.1 538.5M276.7 563L294.8 538.5M282.0 563L299.6 538.5M182 568.7L208.0 548.3M182 574.3L208.0 554.5M182 580.0L208.0 560.8M182 585.7L208.0 567.1M182 591.3L208.0 573.3M182 597.0L208.0 579.6" fill="none" stroke="#444" stroke-width="0.5" opacity="0.8"/>
<polygon points="242,528 250,522 274,522 274,553 266,559.5 242,559.5" fill="#7d5412"/>
<polygon points="242,528 266,528 274,522 250,522" fill="#b08428"/>
<polygon points="266,528 274,522 274,553 266,559.5" fill="#5f3d0c"/>
<path d="M242 538 H266 M242 548 H266 M254 528 V559" stroke="#c8a040" stroke-width="0.9"/>
<path d="M244 533 l8 -3 M256 545 l8 -4 M246 553 l7 -2" stroke="#d8b860" stroke-width="1.2"/>
<ellipse cx="268" cy="559" rx="6.5" ry="4.2" fill="#d6cf24"/><ellipse cx="268" cy="559" rx="2.6" ry="1.7" fill="#3a3a10"/>
<path d="M242 534.8H276" stroke="#222" stroke-width="1"/>
</g>
<g><ellipse cx="315.5" cy="545" rx="7.5" ry="9" fill="#8c1212"/><rect x="312" y="533" width="6" height="6" fill="#a02020"/><circle cx="308" cy="548" r="2.2" fill="#d8a040"/>
<rect x="309" y="553" width="7" height="13" rx="2" fill="#8a1aa4"/><rect x="312" y="562" width="8" height="5" rx="2" fill="#7a1490"/></g>
<g>
<ellipse cx="146" cy="622" rx="36" ry="4" fill="#dadada" filter="url(#b2)"/>
<polygon points="123.5,577 151,567 179,570 179,603 151,611 123.5,603" fill="#b4b8ba"/>
<polygon points="123.5,577 151,567 179,570 152,581" fill="#8f9496"/>
<polygon points="152,581 179,570 179,603 152,611" fill="#c9cdcf"/>
<path d="M157 579V609M162 577V607.5M167 575V606M172 573V604.5" stroke="#a9adaf" stroke-width="1"/>
<polygon points="152,602 179,594.5 179,599 152,607" fill="#1d7d84"/>
<polygon points="109,593 113.5,583 136,580 152,585 152,612 140,619 109,610" fill="#e4e8ea"/>
<polygon points="136,580 152,585 152,612 140,619 138,600" fill="#c4cacc"/>
<polygon points="111,593 115.5,585 134,588 132,603 111,600.5" fill="#2a9be0"/>
<polygon points="116,588 128,590 121,599 113.5,597.5" fill="#86d2f6"/>
<polygon points="137,589 146.5,591 146.5,604 136,602" fill="#2a7cc0"/>
<polygon points="107.5,603 134,609.5 134,619 107.5,611.5" fill="#8f989b"/>
<rect x="113" y="606" width="14" height="3.5" fill="#2c3438" transform="rotate(13 113 606)"/>
<rect x="108.5" y="604" width="4" height="3" fill="#f4f0d0" transform="rotate(13 108.5 604)"/>
<circle cx="142.5" cy="618.5" r="6.2" fill="#232529"/><circle cx="142.5" cy="618.5" r="2.8" fill="#b4b8bc"/>
<circle cx="171.5" cy="606.5" r="5.2" fill="#232529"/><circle cx="171.5" cy="606.5" r="2.3" fill="#b4b8bc"/>
</g>
<g>
<ellipse cx="950" cy="592.5" rx="38" ry="4" fill="#dedede" filter="url(#b2)"/>
<polygon points="913,544 937,539 969,548 969,575 947,583 913,572" fill="#a9adaf"/>
<polygon points="913,544 937,539 969,548 946,554.5" fill="#8a8f91"/>
<polygon points="913,544 946,554.5 946,583 913,572" fill="#b7bbbd"/>
<path d="M919 546V574M925 548V576M931 550V578M937 552V580M942 553.5V581.5" stroke="#9a9ea0" stroke-width="1"/>
<polygon points="913,565 946,576 946,580.5 913,569.5" fill="#1d7d84"/>
<polygon points="946,556 968,550 982,558 985.5,572 985.5,584 962,592.5 946,585" fill="#e4e8ea"/>
<polygon points="946,556 960,561 962,592.5 946,585" fill="#c9cfd1"/>
<polygon points="961,561 979.5,556.5 984,571 963,576.5" fill="#2a9be0"/>
<polygon points="966,562 977,559.5 972,570 965,572" fill="#86d2f6"/>
<polygon points="949.5,560.5 958.5,562.5 959,575.5 950,572.5" fill="#2a7cc0"/>
<polygon points="962,578.5 985.5,573 985.5,584 962,592.5" fill="#8f989b"/>
<rect x="967" y="581" width="13" height="3.5" fill="#2c3438" transform="rotate(-14 967 581)"/>
<circle cx="920.5" cy="576" r="5.2" fill="#232529"/><circle cx="920.5" cy="576" r="2.3" fill="#b4b8bc"/>
<circle cx="950" cy="587.5" r="6.2" fill="#232529"/><circle cx="950" cy="587.5" r="2.8" fill="#b4b8bc"/>
</g>
<g>
<polygon points="836,530 886,505 944,531 893,558" fill="#9a9c9e"/>
<polygon points="838,531 886,507 941,531 893,555" fill="#b4b6b8"/>
<polygon points="902,531 914,536 914,547 902,553" fill="#8cc63f"/>
<g>
<polygon points="860.0,484.5 872.5,488.5 872.5,512.0 860.0,506.0" fill="#dde5ee"/>
<polygon points="872.5,488.5 884.0,483.5 884.0,506.0 872.5,512.0" fill="#c0cddb"/>
<polygon points="860.0,484.5 871.5,479.5 884.0,483.5 872.5,488.5" fill="#f4f7fa"/>
<rect x="861.6" y="490.5" width="2.3" height="2.6" fill="#6d8fb4" transform="skewY(12)" transform-origin="861.6 490.5"/>
<rect x="865.1" y="491.1" width="2.3" height="2.6" fill="#6d8fb4" transform="skewY(12)" transform-origin="865.1 490.5"/>
<rect x="868.6" y="491.7" width="2.3" height="2.6" fill="#6d8fb4" transform="skewY(12)" transform-origin="868.6 490.5"/>
<rect x="873.7" y="491.7" width="2.2" height="2.6" fill="#55779e"/>
<rect x="877.0" y="491.0" width="2.2" height="2.6" fill="#55779e"/>
<rect x="880.4" y="490.3" width="2.2" height="2.6" fill="#55779e"/>
<rect x="861.6" y="495.1" width="2.3" height="2.6" fill="#6d8fb4" transform="skewY(12)" transform-origin="861.6 495.1"/>
<rect x="865.1" y="495.7" width="2.3" height="2.6" fill="#6d8fb4" transform="skewY(12)" transform-origin="865.1 495.1"/>
<rect x="868.6" y="496.3" width="2.3" height="2.6" fill="#6d8fb4" transform="skewY(12)" transform-origin="868.6 495.1"/>
<rect x="873.7" y="496.3" width="2.2" height="2.6" fill="#55779e"/>
<rect x="877.0" y="495.6" width="2.2" height="2.6" fill="#55779e"/>
<rect x="880.4" y="494.9" width="2.2" height="2.6" fill="#55779e"/>
<rect x="861.6" y="499.7" width="2.3" height="2.6" fill="#6d8fb4" transform="skewY(12)" transform-origin="861.6 499.7"/>
<rect x="865.1" y="500.3" width="2.3" height="2.6" fill="#6d8fb4" transform="skewY(12)" transform-origin="865.1 499.7"/>
<rect x="868.6" y="500.9" width="2.3" height="2.6" fill="#6d8fb4" transform="skewY(12)" transform-origin="868.6 499.7"/>
<rect x="873.7" y="500.9" width="2.2" height="2.6" fill="#55779e"/>
<rect x="877.0" y="500.2" width="2.2" height="2.6" fill="#55779e"/>
<rect x="880.4" y="499.5" width="2.2" height="2.6" fill="#55779e"/>
<rect x="861.6" y="504.3" width="2.3" height="2.6" fill="#6d8fb4" transform="skewY(12)" transform-origin="861.6 504.3"/>
<rect x="865.1" y="504.9" width="2.3" height="2.6" fill="#6d8fb4" transform="skewY(12)" transform-origin="865.1 504.3"/>
<rect x="868.6" y="505.5" width="2.3" height="2.6" fill="#6d8fb4" transform="skewY(12)" transform-origin="868.6 504.3"/>
<rect x="873.7" y="505.5" width="2.2" height="2.6" fill="#55779e"/>
<rect x="877.0" y="504.8" width="2.2" height="2.6" fill="#55779e"/>
<rect x="880.4" y="504.1" width="2.2" height="2.6" fill="#55779e"/>
</g>
<g>
<polygon points="884.0,491.0 893.4,495.0 893.4,513.0 884.0,507.0" fill="#dde5ee"/>
<polygon points="893.4,495.0 902.0,490.0 902.0,507.0 893.4,513.0" fill="#c0cddb"/>
<polygon points="884.0,491.0 892.6,486.0 902.0,490.0 893.4,495.0" fill="#f4f7fa"/>
<rect x="885.6" y="497.0" width="1.3" height="2.6" fill="#6d8fb4" transform="skewY(12)" transform-origin="885.6 497.0"/>
<rect x="888.1" y="497.6" width="1.3" height="2.6" fill="#6d8fb4" transform="skewY(12)" transform-origin="888.1 497.0"/>
<rect x="890.5" y="498.2" width="1.3" height="2.6" fill="#6d8fb4" transform="skewY(12)" transform-origin="890.5 497.0"/>
<rect x="894.6" y="498.2" width="1.3" height="2.6" fill="#55779e"/>
<rect x="896.9" y="497.5" width="1.3" height="2.6" fill="#55779e"/>
<rect x="899.3" y="496.8" width="1.3" height="2.6" fill="#55779e"/>
<rect x="885.6" y="501.6" width="1.3" height="2.6" fill="#6d8fb4" transform="skewY(12)" transform-origin="885.6 501.6"/>
<rect x="888.1" y="502.2" width="1.3" height="2.6" fill="#6d8fb4" transform="skewY(12)" transform-origin="888.1 501.6"/>
<rect x="890.5" y="502.8" width="1.3" height="2.6" fill="#6d8fb4" transform="skewY(12)" transform-origin="890.5 501.6"/>
<rect x="894.6" y="502.8" width="1.3" height="2.6" fill="#55779e"/>
<rect x="896.9" y="502.1" width="1.3" height="2.6" fill="#55779e"/>
<rect x="899.3" y="501.4" width="1.3" height="2.6" fill="#55779e"/>
<rect x="885.6" y="506.2" width="1.3" height="2.6" fill="#6d8fb4" transform="skewY(12)" transform-origin="885.6 506.2"/>
<rect x="888.1" y="506.8" width="1.3" height="2.6" fill="#6d8fb4" transform="skewY(12)" transform-origin="888.1 506.2"/>
<rect x="890.5" y="507.4" width="1.3" height="2.6" fill="#6d8fb4" transform="skewY(12)" transform-origin="890.5 506.2"/>
<rect x="894.6" y="507.4" width="1.3" height="2.6" fill="#55779e"/>
<rect x="896.9" y="506.7" width="1.3" height="2.6" fill="#55779e"/>
<rect x="899.3" y="506.0" width="1.3" height="2.6" fill="#55779e"/>
</g>
<g>
<polygon points="895.0,500.0 908.3,504.0 908.3,527.0 895.0,521.0" fill="#dde5ee"/>
<polygon points="908.3,504.0 920.5,499.0 920.5,521.0 908.3,527.0" fill="#c0cddb"/>
<polygon points="895.0,500.0 907.2,495.0 920.5,499.0 908.3,504.0" fill="#f4f7fa"/>
<rect x="896.6" y="506.0" width="2.6" height="2.6" fill="#6d8fb4" transform="skewY(12)" transform-origin="896.6 506.0"/>
<rect x="900.4" y="506.6" width="2.6" height="2.6" fill="#6d8fb4" transform="skewY(12)" transform-origin="900.4 506.0"/>
<rect x="904.1" y="507.2" width="2.6" height="2.6" fill="#6d8fb4" transform="skewY(12)" transform-origin="904.1 506.0"/>
<rect x="909.5" y="507.2" width="2.5" height="2.6" fill="#55779e"/>
<rect x="913.0" y="506.5" width="2.5" height="2.6" fill="#55779e"/>
<rect x="916.6" y="505.8" width="2.5" height="2.6" fill="#55779e"/>
<rect x="896.6" y="510.6" width="2.6" height="2.6" fill="#6d8fb4" transform="skewY(12)" transform-origin="896.6 510.6"/>
<rect x="900.4" y="511.2" width="2.6" height="2.6" fill="#6d8fb4" transform="skewY(12)" transform-origin="900.4 510.6"/>
<rect x="904.1" y="511.8" width="2.6" height="2.6" fill="#6d8fb4" transform="skewY(12)" transform-origin="904.1 510.6"/>
<rect x="909.5" y="511.8" width="2.5" height="2.6" fill="#55779e"/>
<rect x="913.0" y="511.1" width="2.5" height="2.6" fill="#55779e"/>
<rect x="916.6" y="510.4" width="2.5" height="2.6" fill="#55779e"/>
<rect x="896.6" y="515.2" width="2.6" height="2.6" fill="#6d8fb4" transform="skewY(12)" transform-origin="896.6 515.2"/>
<rect x="900.4" y="515.8" width="2.6" height="2.6" fill="#6d8fb4" transform="skewY(12)" transform-origin="900.4 515.2"/>
<rect x="904.1" y="516.4" width="2.6" height="2.6" fill="#6d8fb4" transform="skewY(12)" transform-origin="904.1 515.2"/>
<rect x="909.5" y="516.4" width="2.5" height="2.6" fill="#55779e"/>
<rect x="913.0" y="515.7" width="2.5" height="2.6" fill="#55779e"/>
<rect x="916.6" y="515.0" width="2.5" height="2.6" fill="#55779e"/>
<rect x="896.6" y="519.8" width="2.6" height="2.6" fill="#6d8fb4" transform="skewY(12)" transform-origin="896.6 519.8"/>
<rect x="900.4" y="520.4" width="2.6" height="2.6" fill="#6d8fb4" transform="skewY(12)" transform-origin="900.4 519.8"/>
<rect x="904.1" y="521.0" width="2.6" height="2.6" fill="#6d8fb4" transform="skewY(12)" transform-origin="904.1 519.8"/>
<rect x="909.5" y="521.0" width="2.5" height="2.6" fill="#55779e"/>
<rect x="913.0" y="520.3" width="2.5" height="2.6" fill="#55779e"/>
<rect x="916.6" y="519.6" width="2.5" height="2.6" fill="#55779e"/>
</g>
<g>
<polygon points="914.0,508.5 926.5,512.5 926.5,535.0 914.0,529.0" fill="#dde5ee"/>
<polygon points="926.5,512.5 938.0,507.5 938.0,529.0 926.5,535.0" fill="#c0cddb"/>
<polygon points="914.0,508.5 925.5,503.5 938.0,507.5 926.5,512.5" fill="#f4f7fa"/>
<rect x="915.6" y="514.5" width="2.3" height="2.6" fill="#6d8fb4" transform="skewY(12)" transform-origin="915.6 514.5"/>
<rect x="919.1" y="515.1" width="2.3" height="2.6" fill="#6d8fb4" transform="skewY(12)" transform-origin="919.1 514.5"/>
<rect x="922.6" y="515.7" width="2.3" height="2.6" fill="#6d8fb4" transform="skewY(12)" transform-origin="922.6 514.5"/>
<rect x="927.7" y="515.7" width="2.2" height="2.6" fill="#55779e"/>
<rect x="931.0" y="515.0" width="2.2" height="2.6" fill="#55779e"/>
<rect x="934.4" y="514.3" width="2.2" height="2.6" fill="#55779e"/>
<rect x="915.6" y="519.1" width="2.3" height="2.6" fill="#6d8fb4" transform="skewY(12)" transform-origin="915.6 519.1"/>
<rect x="919.1" y="519.7" width="2.3" height="2.6" fill="#6d8fb4" transform="skewY(12)" transform-origin="919.1 519.1"/>
<rect x="922.6" y="520.3" width="2.3" height="2.6" fill="#6d8fb4" transform="skewY(12)" transform-origin="922.6 519.1"/>
<rect x="927.7" y="520.3" width="2.2" height="2.6" fill="#55779e"/>
<rect x="931.0" y="519.6" width="2.2" height="2.6" fill="#55779e"/>
<rect x="934.4" y="518.9" width="2.2" height="2.6" fill="#55779e"/>
<rect x="915.6" y="523.7" width="2.3" height="2.6" fill="#6d8fb4" transform="skewY(12)" transform-origin="915.6 523.7"/>
<rect x="919.1" y="524.3" width="2.3" height="2.6" fill="#6d8fb4" transform="skewY(12)" transform-origin="919.1 523.7"/>
<rect x="922.6" y="524.9" width="2.3" height="2.6" fill="#6d8fb4" transform="skewY(12)" transform-origin="922.6 523.7"/>
<rect x="927.7" y="524.9" width="2.2" height="2.6" fill="#55779e"/>
<rect x="931.0" y="524.2" width="2.2" height="2.6" fill="#55779e"/>
<rect x="934.4" y="523.5" width="2.2" height="2.6" fill="#55779e"/>
<rect x="915.6" y="528.3" width="2.3" height="2.6" fill="#6d8fb4" transform="skewY(12)" transform-origin="915.6 528.3"/>
<rect x="919.1" y="528.9" width="2.3" height="2.6" fill="#6d8fb4" transform="skewY(12)" transform-origin="919.1 528.3"/>
<rect x="922.6" y="529.5" width="2.3" height="2.6" fill="#6d8fb4" transform="skewY(12)" transform-origin="922.6 528.3"/>
<rect x="927.7" y="529.5" width="2.2" height="2.6" fill="#55779e"/>
<rect x="931.0" y="528.8" width="2.2" height="2.6" fill="#55779e"/>
<rect x="934.4" y="528.1" width="2.2" height="2.6" fill="#55779e"/>
</g>
<g>
<polygon points="842.0,507.5 855.3,511.5 855.3,535.0 842.0,529.0" fill="#dde5ee"/>
<polygon points="855.3,511.5 867.5,506.5 867.5,529.0 855.3,535.0" fill="#c0cddb"/>
<polygon points="842.0,507.5 854.2,502.5 867.5,506.5 855.3,511.5" fill="#f4f7fa"/>
<rect x="843.6" y="513.5" width="2.6" height="2.6" fill="#6d8fb4" transform="skewY(12)" transform-origin="843.6 513.5"/>
<rect x="847.4" y="514.1" width="2.6" height="2.6" fill="#6d8fb4" transform="skewY(12)" transform-origin="847.4 513.5"/>
<rect x="851.1" y="514.7" width="2.6" height="2.6" fill="#6d8fb4" transform="skewY(12)" transform-origin="851.1 513.5"/>
<rect x="856.5" y="514.7" width="2.5" height="2.6" fill="#55779e"/>
<rect x="860.0" y="514.0" width="2.5" height="2.6" fill="#55779e"/>
<rect x="863.6" y="513.3" width="2.5" height="2.6" fill="#55779e"/>
<rect x="843.6" y="518.1" width="2.6" height="2.6" fill="#6d8fb4" transform="skewY(12)" transform-origin="843.6 518.1"/>
<rect x="847.4" y="518.7" width="2.6" height="2.6" fill="#6d8fb4" transform="skewY(12)" transform-origin="847.4 518.1"/>
<rect x="851.1" y="519.3" width="2.6" height="2.6" fill="#6d8fb4" transform="skewY(12)" transform-origin="851.1 518.1"/>
<rect x="856.5" y="519.3" width="2.5" height="2.6" fill="#55779e"/>
<rect x="860.0" y="518.6" width="2.5" height="2.6" fill="#55779e"/>
<rect x="863.6" y="517.9" width="2.5" height="2.6" fill="#55779e"/>
<rect x="843.6" y="522.7" width="2.6" height="2.6" fill="#6d8fb4" transform="skewY(12)" transform-origin="843.6 522.7"/>
<rect x="847.4" y="523.3" width="2.6" height="2.6" fill="#6d8fb4" transform="skewY(12)" transform-origin="847.4 522.7"/>
<rect x="851.1" y="523.9" width="2.6" height="2.6" fill="#6d8fb4" transform="skewY(12)" transform-origin="851.1 522.7"/>
<rect x="856.5" y="523.9" width="2.5" height="2.6" fill="#55779e"/>
<rect x="860.0" y="523.2" width="2.5" height="2.6" fill="#55779e"/>
<rect x="863.6" y="522.5" width="2.5" height="2.6" fill="#55779e"/>
<rect x="843.6" y="527.3" width="2.6" height="2.6" fill="#6d8fb4" transform="skewY(12)" transform-origin="843.6 527.3"/>
<rect x="847.4" y="527.9" width="2.6" height="2.6" fill="#6d8fb4" transform="skewY(12)" transform-origin="847.4 527.3"/>
<rect x="851.1" y="528.5" width="2.6" height="2.6" fill="#6d8fb4" transform="skewY(12)" transform-origin="851.1 527.3"/>
<rect x="856.5" y="528.5" width="2.5" height="2.6" fill="#55779e"/>
<rect x="860.0" y="527.8" width="2.5" height="2.6" fill="#55779e"/>
<rect x="863.6" y="527.1" width="2.5" height="2.6" fill="#55779e"/>
</g>
<g>
<polygon points="858.5,519.0 872.3,523.0 872.3,545.0 858.5,539.0" fill="#dde5ee"/>
<polygon points="872.3,523.0 885.0,518.0 885.0,539.0 872.3,545.0" fill="#c0cddb"/>
<polygon points="858.5,519.0 871.2,514.0 885.0,518.0 872.3,523.0" fill="#f4f7fa"/>
<rect x="860.1" y="525.0" width="2.7" height="2.6" fill="#6d8fb4" transform="skewY(12)" transform-origin="860.1 525.0"/>
<rect x="864.0" y="525.6" width="2.7" height="2.6" fill="#6d8fb4" transform="skewY(12)" transform-origin="864.0 525.0"/>
<rect x="868.0" y="526.2" width="2.7" height="2.6" fill="#6d8fb4" transform="skewY(12)" transform-origin="868.0 525.0"/>
<rect x="873.5" y="526.2" width="2.6" height="2.6" fill="#55779e"/>
<rect x="877.2" y="525.5" width="2.6" height="2.6" fill="#55779e"/>
<rect x="881.0" y="524.8" width="2.6" height="2.6" fill="#55779e"/>
<rect x="860.1" y="529.6" width="2.7" height="2.6" fill="#6d8fb4" transform="skewY(12)" transform-origin="860.1 529.6"/>
<rect x="864.0" y="530.2" width="2.7" height="2.6" fill="#6d8fb4" transform="skewY(12)" transform-origin="864.0 529.6"/>
<rect x="868.0" y="530.8" width="2.7" height="2.6" fill="#6d8fb4" transform="skewY(12)" transform-origin="868.0 529.6"/>
<rect x="873.5" y="530.8" width="2.6" height="2.6" fill="#55779e"/>
<rect x="877.2" y="530.1" width="2.6" height="2.6" fill="#55779e"/>
<rect x="881.0" y="529.4" width="2.6" height="2.6" fill="#55779e"/>
<rect x="860.1" y="534.2" width="2.7" height="2.6" fill="#6d8fb4" transform="skewY(12)" transform-origin="860.1 534.2"/>
<rect x="864.0" y="534.8" width="2.7" height="2.6" fill="#6d8fb4" transform="skewY(12)" transform-origin="864.0 534.2"/>
<rect x="868.0" y="535.4" width="2.7" height="2.6" fill="#6d8fb4" transform="skewY(12)" transform-origin="868.0 534.2"/>
<rect x="873.5" y="535.4" width="2.6" height="2.6" fill="#55779e"/>
<rect x="877.2" y="534.7" width="2.6" height="2.6" fill="#55779e"/>
<rect x="881.0" y="534.0" width="2.6" height="2.6" fill="#55779e"/>
<rect x="860.1" y="538.8" width="2.7" height="2.6" fill="#6d8fb4" transform="skewY(12)" transform-origin="860.1 538.8"/>
<rect x="864.0" y="539.4" width="2.7" height="2.6" fill="#6d8fb4" transform="skewY(12)" transform-origin="864.0 538.8"/>
<rect x="868.0" y="540.0" width="2.7" height="2.6" fill="#6d8fb4" transform="skewY(12)" transform-origin="868.0 538.8"/>
<rect x="873.5" y="540.0" width="2.6" height="2.6" fill="#55779e"/>
<rect x="877.2" y="539.3" width="2.6" height="2.6" fill="#55779e"/>
<rect x="881.0" y="538.6" width="2.6" height="2.6" fill="#55779e"/>
</g>
<g>
<polygon points="877.5,526.5 890.8,530.5 890.8,554.0 877.5,548.0" fill="#dde5ee"/>
<polygon points="890.8,530.5 903.0,525.5 903.0,548.0 890.8,554.0" fill="#c0cddb"/>
<polygon points="877.5,526.5 889.7,521.5 903.0,525.5 890.8,530.5" fill="#f4f7fa"/>
<rect x="879.1" y="532.5" width="2.6" height="2.6" fill="#6d8fb4" transform="skewY(12)" transform-origin="879.1 532.5"/>
<rect x="882.9" y="533.1" width="2.6" height="2.6" fill="#6d8fb4" transform="skewY(12)" transform-origin="882.9 532.5"/>
<rect x="886.6" y="533.7" width="2.6" height="2.6" fill="#6d8fb4" transform="skewY(12)" transform-origin="886.6 532.5"/>
<rect x="892.0" y="533.7" width="2.5" height="2.6" fill="#55779e"/>
<rect x="895.5" y="533.0" width="2.5" height="2.6" fill="#55779e"/>
<rect x="899.1" y="532.3" width="2.5" height="2.6" fill="#55779e"/>
<rect x="879.1" y="537.1" width="2.6" height="2.6" fill="#6d8fb4" transform="skewY(12)" transform-origin="879.1 537.1"/>
<rect x="882.9" y="537.7" width="2.6" height="2.6" fill="#6d8fb4" transform="skewY(12)" transform-origin="882.9 537.1"/>
<rect x="886.6" y="538.3" width="2.6" height="2.6" fill="#6d8fb4" transform="skewY(12)" transform-origin="886.6 537.1"/>
<rect x="892.0" y="538.3" width="2.5" height="2.6" fill="#55779e"/>
<rect x="895.5" y="537.6" width="2.5" height="2.6" fill="#55779e"/>
<rect x="899.1" y="536.9" width="2.5" height="2.6" fill="#55779e"/>
<rect x="879.1" y="541.7" width="2.6" height="2.6" fill="#6d8fb4" transform="skewY(12)" transform-origin="879.1 541.7"/>
<rect x="882.9" y="542.3" width="2.6" height="2.6" fill="#6d8fb4" transform="skewY(12)" transform-origin="882.9 541.7"/>
<rect x="886.6" y="542.9" width="2.6" height="2.6" fill="#6d8fb4" transform="skewY(12)" transform-origin="886.6 541.7"/>
<rect x="892.0" y="542.9" width="2.5" height="2.6" fill="#55779e"/>
<rect x="895.5" y="542.2" width="2.5" height="2.6" fill="#55779e"/>
<rect x="899.1" y="541.5" width="2.5" height="2.6" fill="#55779e"/>
<rect x="879.1" y="546.3" width="2.6" height="2.6" fill="#6d8fb4" transform="skewY(12)" transform-origin="879.1 546.3"/>
<rect x="882.9" y="546.9" width="2.6" height="2.6" fill="#6d8fb4" transform="skewY(12)" transform-origin="882.9 546.3"/>
<rect x="886.6" y="547.5" width="2.6" height="2.6" fill="#6d8fb4" transform="skewY(12)" transform-origin="886.6 546.3"/>
<rect x="892.0" y="547.5" width="2.5" height="2.6" fill="#55779e"/>
<rect x="895.5" y="546.8" width="2.5" height="2.6" fill="#55779e"/>
<rect x="899.1" y="546.1" width="2.5" height="2.6" fill="#55779e"/>
</g>
</g>
<!-- canopy 3 outline + press beacon -->
<g stroke="#5e5e5e" stroke-width="1.35" stroke-linejoin="round" fill="#fff" fill-opacity="0.0">
<polygon points="671.0,267.0 828.0,267.0 879.0,218.0 722.0,218.0"/>
<polygon points="671.0,267.0 828.0,267.0 828.0,272.5 671.0,272.5"/>
<polygon points="828.0,267.0 879.0,218.0 879.0,223.5 828.0,272.5"/>
<path d="M676.0 266.5 L726.0 222.0" fill="none"/>
</g>
<g>
<line x1="712.0" y1="259.0" x2="712.0" y2="266.0" stroke="#777" stroke-width="1.8"/>
<polygon points="710.0,251.1 710.0,253.8 701.5,249.0" fill="#12a535"/>
<polygon points="710.0,251.9 710.0,254.7 701.5,252.5" fill="#12a535"/>
<polygon points="710.0,252.8 710.0,255.5 702.5,256.0" fill="#12a535"/>
<polygon points="709.0,249.5 709.0,256.5 704.5,253.0" fill="#1fb843"/>
<polygon points="714.0,251.1 714.0,253.8 722.5,249.0" fill="#12a535"/>
<polygon points="714.0,251.9 714.0,254.7 722.5,252.5" fill="#12a535"/>
<polygon points="714.0,252.8 714.0,255.5 721.5,256.0" fill="#12a535"/>
<polygon points="715.0,249.5 715.0,256.5 719.5,253.0" fill="#1fb843"/>
<rect x="708.5" y="247.0" width="7" height="13.2" fill="#2c4a34"/>
<rect x="709.0" y="247.3" width="6" height="3" rx="0.8" fill="#d8322c"/>
<rect x="709.5" y="250.8" width="5" height="2.6" fill="#34384a"/>
<rect x="709.7" y="255.0" width="4.6" height="1.5" fill="#dfe8df"/><rect x="709.7" y="258.0" width="4.6" height="1.6" fill="#e8eee8"/>
</g>
<path d="M890,203 H872 L788,278" fill="none" stroke="#2a2a2a" stroke-width="1.2"/>
<!-- wall monitor A -->
<g>
<polygon points="773,264 798,258 798,286 773,291" fill="#2b93b0"/>
<polygon points="773,264 777,263 777,290 773,291" fill="#1c6a85"/>
<polygon points="780,268 795,264.5 795,279 780,283" fill="#f4f4f6" stroke="#1a4a5c" stroke-width="1"/>
<path d="M795,272 L788,278" stroke="#2a2a2a" stroke-width="1.2"/>
</g>
<!-- dashboards -->
<g>
<rect x="212" y="176" width="119" height="74.7" fill="#fff"/>
<rect x="212" y="176" width="119" height="7.2" fill="#1f2430"/>
<rect x="289" y="176" width="42" height="7.2" fill="#0c0e14"/>
<rect x="248" y="178.6" width="40" height="1.6" fill="#cfd3da" opacity="0.8"/>
<rect x="306" y="178.6" width="22" height="1.4" fill="#9aa0aa" opacity="0.7"/>
<rect x="305.5" y="181" width="6" height="7" fill="#d8d8d8" opacity="0.9"/>
<rect x="212" y="248" width="119" height="2.7" fill="#3f5c9a"/>
<line x1="221" y1="186.5" x2="298" y2="186.5" stroke="#e9e9ee" stroke-width="0.5"/>
<line x1="221" y1="190.0" x2="298" y2="190.0" stroke="#e9e9ee" stroke-width="0.5"/>
<line x1="221" y1="193.5" x2="298" y2="193.5" stroke="#e9e9ee" stroke-width="0.5"/>
<line x1="221" y1="197.0" x2="298" y2="197.0" stroke="#e9e9ee" stroke-width="0.5"/>
<line x1="221" y1="200.5" x2="298" y2="200.5" stroke="#e9e9ee" stroke-width="0.5"/>
<line x1="221" y1="204.0" x2="298" y2="204.0" stroke="#e9e9ee" stroke-width="0.5"/>
<line x1="221" y1="206.5" x2="298" y2="206.5" stroke="#e9e9ee" stroke-width="0.5"/>
<rect x="223.80" y="188" width="3.8" height="8.4" fill="#3a78dc"/><rect x="223.80" y="196.2" width="3.8" height="2.5" fill="#e02a22"/>
<rect x="224.60" y="231.8" width="1.9" height="7.8" fill="#3a78dc"/><rect x="226.50" y="238.3" width="1.5" height="1.4" fill="#e02a22"/>
<rect x="231.53" y="188" width="3.8" height="8.4" fill="#3a78dc"/><rect x="231.53" y="196.2" width="3.8" height="2.5" fill="#e02a22"/>
<rect x="232.33" y="231.8" width="1.9" height="7.8" fill="#3a78dc"/><rect x="234.23" y="238.3" width="1.5" height="1.4" fill="#e02a22"/>
<rect x="239.26" y="188" width="3.8" height="8.4" fill="#3a78dc"/><rect x="239.26" y="196.2" width="3.8" height="2.5" fill="#e02a22"/>
<rect x="240.06" y="231.8" width="1.9" height="7.8" fill="#3a78dc"/><rect x="241.96" y="238.3" width="1.5" height="1.4" fill="#e02a22"/>
<rect x="246.99" y="188" width="3.8" height="8.4" fill="#3a78dc"/><rect x="246.99" y="196.2" width="3.8" height="2.5" fill="#e02a22"/>
<rect x="247.79" y="231.8" width="1.9" height="7.8" fill="#3a78dc"/><rect x="249.69" y="238.3" width="1.5" height="1.4" fill="#e02a22"/>
<rect x="254.72" y="188" width="3.8" height="8.4" fill="#3a78dc"/><rect x="254.72" y="196.2" width="3.8" height="2.5" fill="#e02a22"/>
<rect x="255.52" y="231.8" width="1.9" height="7.8" fill="#3a78dc"/><rect x="257.42" y="238.3" width="1.5" height="1.4" fill="#e02a22"/>
<rect x="262.45" y="188" width="3.8" height="8.4" fill="#3a78dc"/><rect x="262.45" y="196.2" width="3.8" height="2.5" fill="#e02a22"/>
<rect x="263.25" y="231.8" width="1.9" height="7.8" fill="#3a78dc"/><rect x="265.15" y="238.3" width="1.5" height="1.4" fill="#e02a22"/>
<rect x="270.18" y="188" width="3.8" height="8.4" fill="#3a78dc"/><rect x="270.18" y="196.2" width="3.8" height="2.5" fill="#e02a22"/>
<rect x="270.98" y="231.8" width="1.9" height="7.8" fill="#3a78dc"/><rect x="272.88" y="238.3" width="1.5" height="1.4" fill="#e02a22"/>
<rect x="277.91" y="188" width="3.8" height="8.4" fill="#3a78dc"/><rect x="277.91" y="196.2" width="3.8" height="2.5" fill="#e02a22"/>
<rect x="278.71" y="231.8" width="1.9" height="7.8" fill="#3a78dc"/><rect x="280.61" y="238.3" width="1.5" height="1.4" fill="#e02a22"/>
<rect x="285.64" y="188" width="3.8" height="8.4" fill="#3a78dc"/><rect x="285.64" y="196.2" width="3.8" height="2.5" fill="#e02a22"/>
<rect x="286.44" y="231.8" width="1.9" height="7.8" fill="#3a78dc"/><rect x="288.34" y="238.3" width="1.5" height="1.4" fill="#e02a22"/>
<rect x="293.37" y="188" width="3.8" height="8.4" fill="#3a78dc"/><rect x="293.37" y="196.2" width="3.8" height="2.5" fill="#e02a22"/>
<rect x="294.17" y="231.8" width="1.9" height="7.8" fill="#3a78dc"/><rect x="296.07" y="238.3" width="1.5" height="1.4" fill="#e02a22"/>
<rect x="216.5" y="209.6" width="81.5" height="1.9" fill="#fbdcdc"/>
<rect x="216.5" y="212.4" width="81.5" height="1.9" fill="#dce6fa"/>
<rect x="216.5" y="242.2" width="81.5" height="1.9" fill="#fbdcdc"/>
<rect x="216.5" y="245" width="81.5" height="1.9" fill="#dce6fa"/>
<rect x="216" y="209.8" width="2.2" height="1.4" fill="#e02a22"/><rect x="216" y="212.7" width="2.2" height="1.4" fill="#3a78dc"/>
<rect x="216" y="242.4" width="2.2" height="1.4" fill="#e02a22"/><rect x="216" y="245.2" width="2.2" height="1.4" fill="#3a78dc"/>
<polyline points="225.5,221.5 232.5,222.5 241,221.3 248.5,222.6 256,225 264,222.3 271.5,223 279.5,219.5 287.5,226.3 295,225.3" fill="none" stroke="#a9c4f2" stroke-width="0.6"/>
<circle cx="316.3" cy="201" r="10.5" fill="#3a78dc"/>
<path d="M316.30 201.00 L306.16 203.72 A10.50 10.50 0 0 1 317.76 190.60 Z" fill="#de2f27"/>
<circle cx="316.3" cy="230.2" r="10.5" fill="#3a78dc"/>
<path d="M316.30 230.20 L309.84 221.93 A10.50 10.50 0 0 1 317.40 219.76 Z" fill="#de2f27"/>
<rect x="309.5" y="213" width="2.5" height="1.2" fill="#e02a22"/><rect x="318.5" y="213" width="2.5" height="1.2" fill="#3a78dc"/>
<rect x="311.5" y="242.3" width="2" height="1.2" fill="#e02a22"/><rect x="318.5" y="242.3" width="2" height="1.2" fill="#3a78dc"/>
</g>
<g>
<rect x="476" y="174.4" width="114" height="70.6" fill="#fbfbfb"/>
<rect x="480" y="177.8" width="110" height="67.2" fill="#d5d5d5"/>
<rect x="481.4" y="179.1" width="18.5" height="9.7" rx="1.6" fill="#3bb143"/>
<rect x="483.2" y="181.1" width="13.5" height="0.9" fill="#c9f0cb"/><rect x="483.2" y="183.1" width="10" height="0.9" fill="#c9f0cb"/><rect x="483.2" y="185.1" width="11.5" height="0.9" fill="#c9f0cb"/>
<rect x="502.7" y="179.1" width="18.5" height="9.7" rx="1.6" fill="#3bb143"/>
<rect x="504.5" y="181.1" width="13.5" height="0.9" fill="#c9f0cb"/><rect x="504.5" y="183.1" width="10" height="0.9" fill="#c9f0cb"/><rect x="504.5" y="185.1" width="11.5" height="0.9" fill="#c9f0cb"/>
<rect x="523.5" y="179.1" width="18.5" height="9.7" rx="1.6" fill="#3bb143"/>
<rect x="525.3" y="181.1" width="13.5" height="0.9" fill="#c9f0cb"/><rect x="525.3" y="183.1" width="10" height="0.9" fill="#c9f0cb"/><rect x="525.3" y="185.1" width="11.5" height="0.9" fill="#c9f0cb"/>
<rect x="544.3" y="179.1" width="18.5" height="9.7" rx="1.6" fill="#bcbcbc"/>
<rect x="546.1" y="181.1" width="13.5" height="0.9" fill="#d9d9d9"/><rect x="546.1" y="183.1" width="10" height="0.9" fill="#d9d9d9"/><rect x="546.1" y="185.1" width="11.5" height="0.9" fill="#d9d9d9"/>
<rect x="565.4" y="179.1" width="18.5" height="9.7" rx="1.6" fill="#3bb143"/>
<rect x="567.2" y="181.1" width="13.5" height="0.9" fill="#c9f0cb"/><rect x="567.2" y="183.1" width="10" height="0.9" fill="#c9f0cb"/><rect x="567.2" y="185.1" width="11.5" height="0.9" fill="#c9f0cb"/>
<rect x="481.4" y="191.2" width="18.5" height="9.7" rx="1.6" fill="#bcbcbc"/>
<rect x="483.2" y="193.2" width="13.5" height="0.9" fill="#d9d9d9"/><rect x="483.2" y="195.2" width="10" height="0.9" fill="#d9d9d9"/><rect x="483.2" y="197.2" width="11.5" height="0.9" fill="#d9d9d9"/>
<rect x="502.7" y="191.2" width="18.5" height="9.7" rx="1.6" fill="#3bb143"/>
<rect x="504.5" y="193.2" width="13.5" height="0.9" fill="#c9f0cb"/><rect x="504.5" y="195.2" width="10" height="0.9" fill="#c9f0cb"/><rect x="504.5" y="197.2" width="11.5" height="0.9" fill="#c9f0cb"/>
<rect x="523.5" y="191.2" width="18.5" height="9.7" rx="1.6" fill="#3bb143"/>
<rect x="525.3" y="193.2" width="13.5" height="0.9" fill="#c9f0cb"/><rect x="525.3" y="195.2" width="10" height="0.9" fill="#c9f0cb"/><rect x="525.3" y="197.2" width="11.5" height="0.9" fill="#c9f0cb"/>
<rect x="544.3" y="191.2" width="18.5" height="9.7" rx="1.6" fill="#3bb143"/>
<rect x="546.1" y="193.2" width="13.5" height="0.9" fill="#c9f0cb"/><rect x="546.1" y="195.2" width="10" height="0.9" fill="#c9f0cb"/><rect x="546.1" y="197.2" width="11.5" height="0.9" fill="#c9f0cb"/>
<rect x="565.4" y="191.2" width="18.5" height="9.7" rx="1.6" fill="#3bb143"/>
<rect x="567.2" y="193.2" width="13.5" height="0.9" fill="#c9f0cb"/><rect x="567.2" y="195.2" width="10" height="0.9" fill="#c9f0cb"/><rect x="567.2" y="197.2" width="11.5" height="0.9" fill="#c9f0cb"/>
<rect x="481.4" y="203.3" width="18.5" height="9.7" rx="1.6" fill="#3bb143"/>
<rect x="483.2" y="205.3" width="13.5" height="0.9" fill="#c9f0cb"/><rect x="483.2" y="207.3" width="10" height="0.9" fill="#c9f0cb"/><rect x="483.2" y="209.3" width="11.5" height="0.9" fill="#c9f0cb"/>
<rect x="502.7" y="203.3" width="18.5" height="9.7" rx="1.6" fill="#bcbcbc"/>
<rect x="504.5" y="205.3" width="13.5" height="0.9" fill="#d9d9d9"/><rect x="504.5" y="207.3" width="10" height="0.9" fill="#d9d9d9"/><rect x="504.5" y="209.3" width="11.5" height="0.9" fill="#d9d9d9"/>
<rect x="523.5" y="203.3" width="18.5" height="9.7" rx="1.6" fill="#3bb143"/>
<rect x="525.3" y="205.3" width="13.5" height="0.9" fill="#c9f0cb"/><rect x="525.3" y="207.3" width="10" height="0.9" fill="#c9f0cb"/><rect x="525.3" y="209.3" width="11.5" height="0.9" fill="#c9f0cb"/>
<rect x="544.3" y="203.3" width="18.5" height="9.7" rx="1.6" fill="#bcbcbc"/>
<rect x="546.1" y="205.3" width="13.5" height="0.9" fill="#d9d9d9"/><rect x="546.1" y="207.3" width="10" height="0.9" fill="#d9d9d9"/><rect x="546.1" y="209.3" width="11.5" height="0.9" fill="#d9d9d9"/>
<rect x="565.4" y="203.3" width="18.5" height="9.7" rx="1.6" fill="#3bb143"/>
<rect x="567.2" y="205.3" width="13.5" height="0.9" fill="#c9f0cb"/><rect x="567.2" y="207.3" width="10" height="0.9" fill="#c9f0cb"/><rect x="567.2" y="209.3" width="11.5" height="0.9" fill="#c9f0cb"/>
<rect x="481.4" y="215.1" width="18.5" height="9.7" rx="1.6" fill="#bcbcbc"/>
<rect x="483.2" y="217.1" width="13.5" height="0.9" fill="#d9d9d9"/><rect x="483.2" y="219.1" width="10" height="0.9" fill="#d9d9d9"/><rect x="483.2" y="221.1" width="11.5" height="0.9" fill="#d9d9d9"/>
<rect x="502.7" y="215.1" width="18.5" height="9.7" rx="1.6" fill="#3bb143"/>
<rect x="504.5" y="217.1" width="13.5" height="0.9" fill="#c9f0cb"/><rect x="504.5" y="219.1" width="10" height="0.9" fill="#c9f0cb"/><rect x="504.5" y="221.1" width="11.5" height="0.9" fill="#c9f0cb"/>
<rect x="523.5" y="215.1" width="18.5" height="9.7" rx="1.6" fill="#3bb143"/>
<rect x="525.3" y="217.1" width="13.5" height="0.9" fill="#c9f0cb"/><rect x="525.3" y="219.1" width="10" height="0.9" fill="#c9f0cb"/><rect x="525.3" y="221.1" width="11.5" height="0.9" fill="#c9f0cb"/>
<rect x="544.3" y="215.1" width="18.5" height="9.7" rx="1.6" fill="#3bb143"/>
<rect x="546.1" y="217.1" width="13.5" height="0.9" fill="#c9f0cb"/><rect x="546.1" y="219.1" width="10" height="0.9" fill="#c9f0cb"/><rect x="546.1" y="221.1" width="11.5" height="0.9" fill="#c9f0cb"/>
<rect x="565.4" y="215.1" width="18.5" height="9.7" rx="1.6" fill="#3bb143"/>
<rect x="567.2" y="217.1" width="13.5" height="0.9" fill="#c9f0cb"/><rect x="567.2" y="219.1" width="10" height="0.9" fill="#c9f0cb"/><rect x="567.2" y="221.1" width="11.5" height="0.9" fill="#c9f0cb"/>
<rect x="481.4" y="227.1" width="18.5" height="9.7" rx="1.6" fill="#3bb143"/>
<rect x="483.2" y="229.1" width="13.5" height="0.9" fill="#c9f0cb"/><rect x="483.2" y="231.1" width="10" height="0.9" fill="#c9f0cb"/><rect x="483.2" y="233.1" width="11.5" height="0.9" fill="#c9f0cb"/>
<rect x="502.7" y="227.1" width="18.5" height="9.7" rx="1.6" fill="#3bb143"/>
<rect x="504.5" y="229.1" width="13.5" height="0.9" fill="#c9f0cb"/><rect x="504.5" y="231.1" width="10" height="0.9" fill="#c9f0cb"/><rect x="504.5" y="233.1" width="11.5" height="0.9" fill="#c9f0cb"/>
<rect x="523.5" y="227.1" width="18.5" height="9.7" rx="1.6" fill="#3bb143"/>
<rect x="525.3" y="229.1" width="13.5" height="0.9" fill="#c9f0cb"/><rect x="525.3" y="231.1" width="10" height="0.9" fill="#c9f0cb"/><rect x="525.3" y="233.1" width="11.5" height="0.9" fill="#c9f0cb"/>
<rect x="544.3" y="227.1" width="18.5" height="9.7" rx="1.6" fill="#3bb143"/>
<rect x="546.1" y="229.1" width="13.5" height="0.9" fill="#c9f0cb"/><rect x="546.1" y="231.1" width="10" height="0.9" fill="#c9f0cb"/><rect x="546.1" y="233.1" width="11.5" height="0.9" fill="#c9f0cb"/>
<rect x="565.4" y="227.1" width="18.5" height="9.7" rx="1.6" fill="#3bb143"/>
<rect x="567.2" y="229.1" width="13.5" height="0.9" fill="#c9f0cb"/><rect x="567.2" y="231.1" width="10" height="0.9" fill="#c9f0cb"/><rect x="567.2" y="233.1" width="11.5" height="0.9" fill="#c9f0cb"/>
<rect x="481.4" y="238.9" width="18.5" height="6.1" rx="1.6" fill="#3bb143"/>
<rect x="483.2" y="240.9" width="13.5" height="0.9" fill="#c9f0cb"/><rect x="483.2" y="242.9" width="10" height="0.9" fill="#c9f0cb"/>
<rect x="502.7" y="238.9" width="18.5" height="6.1" rx="1.6" fill="#3bb143"/>
<rect x="504.5" y="240.9" width="13.5" height="0.9" fill="#c9f0cb"/><rect x="504.5" y="242.9" width="10" height="0.9" fill="#c9f0cb"/>
<rect x="523.5" y="238.9" width="18.5" height="6.1" rx="1.6" fill="#3bb143"/>
<rect x="525.3" y="240.9" width="13.5" height="0.9" fill="#c9f0cb"/><rect x="525.3" y="242.9" width="10" height="0.9" fill="#c9f0cb"/>
<rect x="544.3" y="238.9" width="18.5" height="6.1" rx="1.6" fill="#3bb143"/>
<rect x="546.1" y="240.9" width="13.5" height="0.9" fill="#c9f0cb"/><rect x="546.1" y="242.9" width="10" height="0.9" fill="#c9f0cb"/>
<rect x="565.4" y="238.9" width="18.5" height="6.1" rx="1.6" fill="#bcbcbc"/>
<rect x="567.2" y="240.9" width="13.5" height="0.9" fill="#d9d9d9"/><rect x="567.2" y="242.9" width="10" height="0.9" fill="#d9d9d9"/>
<rect x="531" y="233.5" width="8" height="0.9" fill="#a05020"/><rect x="510" y="222.8" width="8" height="0.9" fill="#a05020"/>
<rect x="512.0" y="175.2" width="1.6" height="1.4" fill="#999"/><rect x="514.2" y="175.5" width="5.5" height="0.9" fill="#b5b5b5"/>
<rect x="522.6" y="175.2" width="1.6" height="1.4" fill="#888"/><rect x="524.8" y="175.5" width="5.5" height="0.9" fill="#b5b5b5"/>
<rect x="533.2" y="175.2" width="1.6" height="1.4" fill="#2a9a2a"/><rect x="535.4" y="175.5" width="5.5" height="0.9" fill="#b5b5b5"/>
<rect x="543.8" y="175.2" width="1.6" height="1.4" fill="#38a8e8"/><rect x="546.0" y="175.5" width="5.5" height="0.9" fill="#b5b5b5"/>
<rect x="554.4" y="175.2" width="1.6" height="1.4" fill="#f07050"/><rect x="556.6" y="175.5" width="5.5" height="0.9" fill="#b5b5b5"/>
<rect x="565.0" y="175.2" width="1.6" height="1.4" fill="#9a60e8"/><rect x="567.2" y="175.5" width="5.5" height="0.9" fill="#b5b5b5"/>
<rect x="575.6" y="175.2" width="1.6" height="1.4" fill="#c02040"/><rect x="577.8" y="175.5" width="5.5" height="0.9" fill="#b5b5b5"/>
<rect x="586.2" y="175.2" width="1.6" height="1.4" fill="#d05010"/><rect x="588.4" y="175.5" width="5.5" height="0.9" fill="#b5b5b5"/>
</g>
<g>
<rect x="730" y="174.8" width="121.8" height="68.8" fill="#1e2c58"/>
<rect x="730" y="209.5" width="121.8" height="34.1" fill="#1a2850"/>
<rect x="730" y="232" width="121.8" height="11.6" fill="#152440"/>
<rect x="730" y="174.8" width="121.8" height="1.3" fill="#0e1228"/><rect x="730" y="242.2" width="121.8" height="1.4" fill="#0a0e1c"/>
<path d="M761.6 176V243M820.5 176V243M730 209.5H852" stroke="#3a2a66" stroke-width="0.7" fill="none"/>
<circle cx="750.1" cy="193.4" r="6.2" fill="none" stroke="#e0b020" stroke-width="2.2"/>
<path d="M751.09 192.43 L751.92 182.87 A9.60 9.60 0 0 1 758.44 198.60 Z" fill="#58c040"/>
<path d="M751.09 193.43 L759.69 193.43 A8.60 8.60 0 0 1 754.03 201.52 Z" fill="#c8c830"/>
<circle cx="749.5" cy="193.4" r="5.2" fill="#1e2c58"/><circle cx="749.5" cy="193.4" r="3.9" fill="#18a8d8"/>
<path d="M743.5 194.9 a6.2 6.2 0 0 0 4 5.5" stroke="#c040e0" stroke-width="1.6" fill="none"/>
<rect x="732" y="178.0" width="4" height="1.4" fill="#58c040"/>
<rect x="732" y="180.1" width="4" height="1.4" fill="#a0d040"/>
<rect x="732" y="182.2" width="4" height="1.4" fill="#e0c020"/>
<rect x="732" y="184.3" width="4" height="1.4" fill="#c040e0"/>
<rect x="732" y="186.4" width="4" height="1.4" fill="#e07030"/>
<rect x="732" y="188.5" width="4" height="1.4" fill="#c8a060"/>
<rect x="770.70" y="190.26" width="2.60" height="6.60" rx="0.6" fill="#7ef0d0" transform="rotate(-25 772.00 193.56)"/>
<rect x="774.35" y="189.03" width="2.60" height="6.60" rx="0.6" fill="#7ef0d0" transform="rotate(-25 775.65 192.33)"/>
<rect x="778.00" y="187.79" width="2.60" height="6.60" rx="0.6" fill="#7ef0d0" transform="rotate(-25 779.30 191.09)"/>
<rect x="781.65" y="186.55" width="2.60" height="6.60" rx="0.6" fill="#7ef0d0" transform="rotate(-25 782.95 189.85)"/>
<rect x="785.31" y="185.31" width="2.60" height="6.60" rx="0.6" fill="#7ef0d0" transform="rotate(-25 786.61 188.61)"/>
<rect x="788.96" y="184.07" width="2.60" height="6.60" rx="0.6" fill="#7ef0d0" transform="rotate(-25 790.26 187.37)"/>
<rect x="796.88" y="183.72" width="2.40" height="5.60" rx="0.6" fill="#7ef0d0" transform="rotate(-25 798.08 186.52)"/>
<rect x="800.41" y="182.68" width="2.40" height="5.60" rx="0.6" fill="#7ef0d0" transform="rotate(-25 801.61 185.48)"/>
<rect x="803.93" y="181.63" width="2.40" height="5.60" rx="0.6" fill="#7ef0d0" transform="rotate(-25 805.13 184.43)"/>
<rect x="774.81" y="200.16" width="2.20" height="5.60" rx="0.6" fill="#a8f4e0" transform="rotate(-25 775.91 202.96)"/>
<rect x="777.29" y="199.35" width="2.20" height="5.60" rx="0.6" fill="#a8f4e0" transform="rotate(-25 778.39 202.15)"/>
<rect x="779.77" y="198.54" width="2.20" height="5.60" rx="0.6" fill="#a8f4e0" transform="rotate(-25 780.87 201.34)"/>
<rect x="782.25" y="197.73" width="2.20" height="5.60" rx="0.6" fill="#f04868" transform="rotate(-25 783.35 200.53)"/>
<rect x="784.72" y="196.92" width="2.20" height="5.60" rx="0.6" fill="#f04868" transform="rotate(-25 785.82 199.72)"/>
<rect x="787.20" y="196.11" width="2.20" height="5.60" rx="0.6" fill="#a8f4e0" transform="rotate(-25 788.30 198.91)"/>
<rect x="789.68" y="195.30" width="2.20" height="5.60" rx="0.6" fill="#a8f4e0" transform="rotate(-25 790.78 198.10)"/>
<rect x="792.16" y="194.49" width="2.20" height="5.60" rx="0.6" fill="#a8f4e0" transform="rotate(-25 793.26 197.29)"/>
<rect x="794.64" y="193.69" width="2.20" height="5.60" rx="0.6" fill="#a8f4e0" transform="rotate(-25 795.74 196.49)"/>
<rect x="797.11" y="192.88" width="2.20" height="5.60" rx="0.6" fill="#a8f4e0" transform="rotate(-25 798.21 195.68)"/>
<rect x="799.59" y="192.07" width="2.20" height="5.60" rx="0.6" fill="#a8f4e0" transform="rotate(-25 800.69 194.87)"/>
<rect x="802.07" y="191.26" width="2.20" height="5.60" rx="0.6" fill="#a8f4e0" transform="rotate(-25 803.17 194.06)"/>
<rect x="805.59" y="189.17" width="2.20" height="6.60" rx="0.6" fill="#f04868" transform="rotate(-25 806.69 192.47)"/>
<rect x="808.07" y="188.36" width="2.20" height="6.60" rx="0.6" fill="#f04868" transform="rotate(-25 809.17 191.66)"/>
<rect x="803.0" y="178.2" width="2.2" height="1.3" fill="#7ef0d0"/>
<rect x="806.3" y="178.2" width="2.2" height="1.3" fill="#f0a030"/>
<rect x="809.6" y="178.2" width="2.2" height="1.3" fill="#f04868"/>
<rect x="812.9" y="178.2" width="2.2" height="1.3" fill="#e0c020"/>
<circle cx="825.1" cy="185.2" r="2.8" fill="none" stroke="#38c8b0" stroke-width="0.7"/>
<circle cx="832.5" cy="185.2" r="2.8" fill="none" stroke="#38c8b0" stroke-width="0.7"/>
<circle cx="840.0" cy="185.2" r="2.8" fill="none" stroke="#38c8b0" stroke-width="0.7"/>
<circle cx="847.4" cy="185.2" r="2.8" fill="none" stroke="#38c8b0" stroke-width="0.7"/>
<rect x="827.04" y="198.39" width="2.6" height="9.78" fill="#5f78e6"/>
<rect x="830.36" y="200.74" width="2.6" height="7.43" fill="#5f78e6"/>
<rect x="833.69" y="201.39" width="2.6" height="6.78" fill="#5f78e6"/>
<rect x="837.02" y="198.78" width="2.6" height="9.39" fill="#5f78e6"/>
<rect x="840.34" y="196.69" width="2.6" height="11.48" fill="#5f78e6"/>
<rect x="843.67" y="194.87" width="2.6" height="13.30" fill="#5f78e6"/>
<rect x="846.99" y="195.78" width="2.6" height="12.39" fill="#5f78e6"/>
<path d="M825.2 192.8V208.3H849.9" stroke="#4a5a8a" stroke-width="0.4" fill="none"/>
<rect x="736.13" y="213.00" width="1.8" height="22.17" fill="#22b8f4"/>
<rect x="740.30" y="218.48" width="1.8" height="16.69" fill="#22b8f4"/>
<rect x="744.48" y="221.08" width="1.8" height="14.09" fill="#22b8f4"/>
<rect x="748.65" y="224.08" width="1.8" height="11.09" fill="#22b8f4"/>
<rect x="752.82" y="224.08" width="1.8" height="11.09" fill="#22b8f4"/>
<rect x="757.00" y="227.08" width="1.8" height="8.09" fill="#22b8f4"/>
<path d="M734.4 212.3V235.4H759.2" stroke="#4a5a8a" stroke-width="0.4" fill="none"/>
<rect x="765.22" y="212.74" width="1.5" height="6.78" fill="#d04030"/>
<line x1="766.00" y1="219.91" x2="764.43" y2="221.87" stroke="#cfd6ea" stroke-width="0.6"/>
<rect x="769.52" y="213.65" width="1.5" height="5.87" fill="#305050"/>
<line x1="770.30" y1="219.91" x2="768.74" y2="221.87" stroke="#cfd6ea" stroke-width="0.6"/>
<rect x="773.82" y="216.00" width="1.5" height="3.52" fill="#70c0a0"/>
<line x1="774.61" y1="219.91" x2="773.04" y2="222.91" stroke="#cfd6ea" stroke-width="0.6"/>
<rect x="778.13" y="216.00" width="1.5" height="3.52" fill="#e09050"/>
<line x1="778.91" y1="219.91" x2="777.35" y2="222.91" stroke="#cfd6ea" stroke-width="0.6"/>
<rect x="782.43" y="217.17" width="1.5" height="2.35" fill="#70b090"/>
<line x1="783.21" y1="219.91" x2="781.65" y2="221.87" stroke="#cfd6ea" stroke-width="0.6"/>
<rect x="786.74" y="217.17" width="1.5" height="2.35" fill="#80b080"/>
<line x1="787.52" y1="219.91" x2="785.95" y2="222.91" stroke="#cfd6ea" stroke-width="0.6"/>
<rect x="791.04" y="217.17" width="1.5" height="2.35" fill="#e0a020"/>
<line x1="791.82" y1="219.91" x2="790.26" y2="221.87" stroke="#cfd6ea" stroke-width="0.6"/>
<rect x="795.34" y="213.00" width="1.5" height="6.52" fill="#e8b090"/>
<line x1="796.13" y1="219.91" x2="794.56" y2="221.87" stroke="#cfd6ea" stroke-width="0.6"/>
<path d="M809.69 218.22 L809.69 213.22 A5.00 5.00 0 0 1 813.23 214.68 Z" fill="#e03a2a"/>
<path d="M809.69 218.22 L813.23 214.68 A5.00 5.00 0 0 1 814.69 218.22 Z" fill="#2a4a5a"/>
<path d="M809.69 218.22 L814.69 218.22 A5.00 5.00 0 0 1 813.23 221.75 Z" fill="#e8a040"/>
<path d="M809.69 218.22 L813.23 221.75 A5.00 5.00 0 0 1 809.69 223.22 Z" fill="#50b090"/>
<path d="M809.69 218.22 L809.69 223.22 A5.00 5.00 0 0 1 806.16 221.75 Z" fill="#e07050"/>
<path d="M809.69 218.22 L806.16 221.75 A5.00 5.00 0 0 1 804.69 218.22 Z" fill="#70c0b0"/>
<path d="M809.69 218.22 L804.69 218.22 A5.00 5.00 0 0 1 806.16 214.68 Z" fill="#f0d090"/>
<path d="M809.69 218.22 L806.16 214.68 A5.00 5.00 0 0 1 809.69 213.22 Z" fill="#c0c8d0"/>
<polyline points="767.7,236.7 784.0,236.7 791.6,228.0 799.6,236.7" fill="none" stroke="#2f7fa8" stroke-width="0.5"/>
<line x1="799.6" y1="236.7" x2="815.3" y2="236.7" stroke="#2f7fa8" stroke-width="0.5"/>
<line x1="766.8" y1="226.0" x2="766.8" y2="236.9" stroke="#4a5a8a" stroke-width="0.6"/>
<rect x="769.4" y="237.8" width="3.4" height="1" fill="#8a98b8"/>
<rect x="776.3" y="237.8" width="3.4" height="1" fill="#8a98b8"/>
<rect x="783.2" y="237.8" width="3.4" height="1" fill="#8a98b8"/>
<rect x="790.1" y="237.8" width="3.4" height="1" fill="#8a98b8"/>
<rect x="797.0" y="237.8" width="3.4" height="1" fill="#8a98b8"/>
<rect x="804.0" y="237.8" width="3.4" height="1" fill="#8a98b8"/>
<rect x="810.9" y="237.8" width="3.4" height="1" fill="#8a98b8"/>
<rect x="824.2" y="214.06" width="8.5" height="1" fill="#c8d0e8"/>
<rect x="834.2" y="213.76" width="16" height="1.6" fill="#1a2a50"/>
<rect x="824.2" y="217.91" width="8.5" height="1" fill="#c8d0e8"/>
<rect x="834.2" y="217.61" width="16" height="1.6" fill="#1a2a50"/>
<rect x="824.2" y="221.76" width="8.5" height="1" fill="#c8d0e8"/>
<rect x="834.2" y="221.46" width="16" height="1.6" fill="#1a2a50"/>
<rect x="833.3" y="220.96" width="3.2" height="2.6" rx="1.3" fill="#2a9cf0"/>
<rect x="824.2" y="225.61" width="8.5" height="1" fill="#c8d0e8"/>
<rect x="834.2" y="225.31" width="16" height="1.6" fill="#1a2a50"/>
<rect x="833.3" y="224.81" width="2.6" height="2.6" rx="1.3" fill="#2a9cf0"/>
<rect x="824.2" y="229.45" width="8.5" height="1" fill="#c8d0e8"/>
<rect x="834.2" y="229.15" width="16" height="1.6" fill="#1a2a50"/>
<rect x="833.3" y="228.65" width="1.4" height="2.6" rx="1.3" fill="#2a9cf0"/>
<rect x="824.2" y="233.30" width="8.5" height="1" fill="#c8d0e8"/>
<rect x="834.2" y="233.00" width="16" height="1.6" fill="#1a2a50"/>
<rect x="833.3" y="232.50" width="3.4" height="2.6" rx="1.3" fill="#2a9cf0"/>
<rect x="824.2" y="237.15" width="8.5" height="1" fill="#c8d0e8"/>
<rect x="834.2" y="236.85" width="16" height="1.6" fill="#1a2a50"/>
<rect x="833.3" y="236.35" width="3.6" height="2.6" rx="1.3" fill="#2a9cf0"/>
<rect x="731.8" y="178.4" width="5" height="1" fill="#4a6ab8"/>
<rect x="762.9" y="178.4" width="5" height="1" fill="#4a6ab8"/>
<rect x="821.6" y="178.4" width="5" height="1" fill="#4a6ab8"/>
<rect x="731.8" y="211.0" width="5" height="1" fill="#4a6ab8"/>
<rect x="762.9" y="211.0" width="5" height="1" fill="#4a6ab8"/>
<rect x="821.6" y="211.0" width="5" height="1" fill="#4a6ab8"/>
</g>
<!-- connector lines -->
<g fill="none" stroke="#2a2a2a" stroke-width="1.2" stroke-linecap="round">
  <path d="M194,225 Q190,262 186,300"/>
  <path d="M476,186 L364,249"/>
  <path d="M714,190 Q722,191 730,198"/>
  <path d="M583,246 Q588,251 594,252"/>
  <path d="M769.5,425 H762.5 L737.5,396"/>
  <path d="M609,471 H578 L556,338"/>
  <path d="M425,524.5 H385 L406.5,456"/>
  <path d="M115,481 H146 L192,409"/>
  <path d="M982,324 V474 L947,496"/>
  <path d="M881,554 L853.5,575"/>
  <path d="M318,537 L343,504"/>
  <path d="M146,535.5 L164,507"/>
</g>
<path d="M146,535.5 H425" stroke="#0a0a0a" stroke-width="1.8" fill="none"/>
<!-- labels -->
<g filter="url(#sh)">
  <rect x="107.2" y="34.6" width="310" height="39.6" fill="#7597b1"/>
  <rect x="635" y="575" width="272" height="39" fill="#7597b1"/>
</g>
<text class="sys" x="126.6" y="62.7" style="font-size:22px" textLength="274.5" lengthAdjust="spacing">极望Y9–WMS仓库管理系统</text>
<text class="sys" x="645" y="602" style="font-size:21px" textLength="256" lengthAdjust="spacing">极望 J9–ERP企业管理系统</text>
<g filter="url(#sh)">
  <rect x="86" y="179" width="115" height="46" fill="#04a06c"/>
  <rect x="355" y="167" width="110" height="44" fill="#04a06c"/>
  <rect x="473" y="131" width="106" height="38" fill="#04a06c"/>
  <rect x="604" y="170" width="110" height="42" fill="#04a06c"/>
  <rect x="594" y="229" width="110" height="43" fill="#04a06c"/>
  <rect x="890" y="184" width="111" height="43" fill="#04a06c"/>
  <rect x="425" y="502" width="120" height="42" fill="#04a06c"/>
  <rect x="37" y="443.5" width="78.5" height="75.5" fill="#04a06c"/>
</g>
<rect x="769.5" y="403" width="109.5" height="42.5" fill="#04a06c"/>
<rect x="609" y="452" width="118" height="43" fill="#04a06c"/>
<text class="lb" x="143.4" y="210.7" textLength="84">现场控制</text>
<text class="lb" x="410" y="196.7" textLength="84">异常预警</text>
<text class="lb" x="526.2" y="158.7" textLength="84">监控中心</text>
<text class="lb" x="659.7" y="200" textLength="84">统计分析</text>
<text class="lb" x="649.3" y="260" textLength="84">生产可视</text>
<text class="lb" x="946.2" y="215.9" textLength="84">现场采集</text>
<text class="lb" x="824.1" y="433.1" textLength="84">设备状态</text>
<text class="lb" x="668.5" y="482" textLength="84">产品溯源</text>
<text class="lb" x="485.4" y="531.6" textLength="84">生产物流</text>
<text class="lb" x="74.1" y="473.6" style="font-size:20px" textLength="41.6">质量</text>
<text class="lb" x="74.1" y="505.7" style="font-size:20px" textLength="41.6">管控</text>

</svg>
</body></html>
